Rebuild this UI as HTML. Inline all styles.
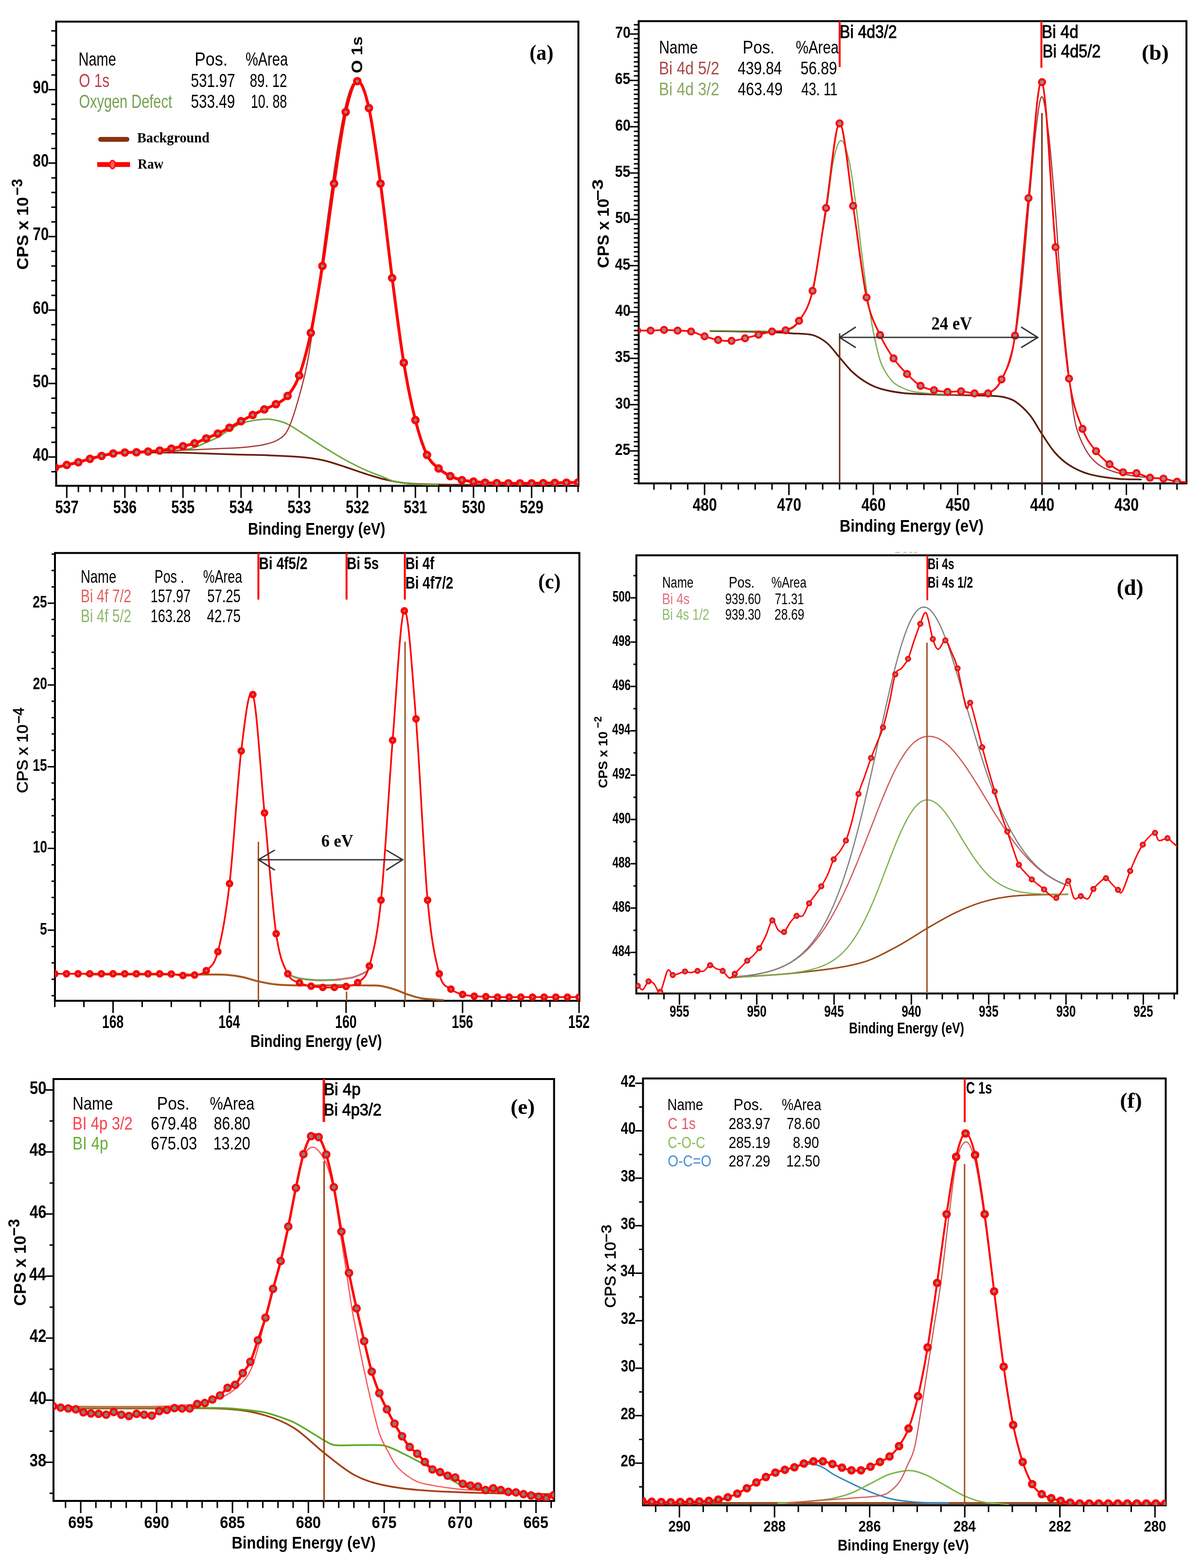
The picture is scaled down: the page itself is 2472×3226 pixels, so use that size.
<!DOCTYPE html><html><head><meta charset="utf-8"><title>XPS spectra</title><style>html,body{margin:0;padding:0;background:#fff;}svg{display:block;}</style></head><body><svg width="2472" height="3226" viewBox="0 0 2472 3226" font-family='"Liberation Sans", Arial, sans-serif'><rect width="2472" height="3226" fill="#fff"/><path d="M137.3 999.5v13M161.2 999.5v13M185.1 999.5v13M209 999.5v13M232.9 999.5v13M256.8 999.5v13M280.7 999.5v13M304.6 999.5v13M328.5 999.5v13M352.4 999.5v13M376.3 999.5v13M400.2 999.5v13M424.1 999.5v13M448 999.5v13M471.9 999.5v13M495.8 999.5v13M519.7 999.5v13M543.6 999.5v13M567.5 999.5v13M591.4 999.5v13M615.3 999.5v13M639.2 999.5v13M663.1 999.5v13M687 999.5v13M710.9 999.5v13M734.8 999.5v13M758.7 999.5v13M782.6 999.5v13M806.5 999.5v13M830.4 999.5v13M854.3 999.5v13M878.2 999.5v13M902.1 999.5v13M926 999.5v13M949.9 999.5v13M973.8 999.5v13M997.7 999.5v13M1021.6 999.5v13M1045.5 999.5v13M1069.4 999.5v13M1093.3 999.5v13M1117.2 999.5v13M1141.1 999.5v13M1165 999.5v13M1188.9 999.5v13M137.3 999.5v25M256.8 999.5v25M376.3 999.5v25M495.8 999.5v25M615.3 999.5v25M734.8 999.5v25M854.3 999.5v25M973.8 999.5v25M1093.3 999.5v25M115.5 970.4h-10M115.5 940.2h-10M115.5 910h-10M115.5 879.7h-10M115.5 849.5h-10M115.5 819.3h-10M115.5 789.1h-10M115.5 758.8h-10M115.5 728.6h-10M115.5 698.4h-10M115.5 668.1h-10M115.5 637.9h-10M115.5 607.7h-10M115.5 577.5h-10M115.5 547.2h-10M115.5 517h-10M115.5 486.8h-10M115.5 456.6h-10M115.5 426.3h-10M115.5 396.1h-10M115.5 365.9h-10M115.5 335.6h-10M115.5 305.4h-10M115.5 275.2h-10M115.5 245h-10M115.5 214.7h-10M115.5 184.5h-10M115.5 154.3h-10M115.5 124h-10M115.5 93.8h-10M115.5 63.6h-10M115.5 940.2h-16M115.5 789.1h-16M115.5 637.9h-16M115.5 486.8h-16M115.5 335.6h-16M115.5 184.5h-16" stroke="#000" stroke-width="3" fill="none"/>
<rect x="115.5" y="44.5" width="1074" height="955" fill="none" stroke="#000" stroke-width="4"/>
<text x="113.4" y="1056.3" font-size="36.3" font-weight="bold" textLength="48.2" lengthAdjust="spacingAndGlyphs">537</text>
<text x="232.8" y="1056.3" font-size="36.3" font-weight="bold" textLength="48.2" lengthAdjust="spacingAndGlyphs">536</text>
<text x="352.2" y="1056.3" font-size="36.3" font-weight="bold" textLength="48.2" lengthAdjust="spacingAndGlyphs">535</text>
<text x="471.4" y="1056.3" font-size="36.3" font-weight="bold" textLength="48.2" lengthAdjust="spacingAndGlyphs">534</text>
<text x="591.3" y="1056.3" font-size="36.3" font-weight="bold" textLength="48.2" lengthAdjust="spacingAndGlyphs">533</text>
<text x="710.9" y="1056.3" font-size="36.3" font-weight="bold" textLength="48.2" lengthAdjust="spacingAndGlyphs">532</text>
<text x="830.2" y="1056.3" font-size="36.3" font-weight="bold" textLength="48.2" lengthAdjust="spacingAndGlyphs">531</text>
<text x="949.9" y="1056.3" font-size="36.3" font-weight="bold" textLength="48.2" lengthAdjust="spacingAndGlyphs">530</text>
<text x="1069.3" y="1056.3" font-size="36.3" font-weight="bold" textLength="48.2" lengthAdjust="spacingAndGlyphs">529</text>
<text x="67.6" y="947.8" font-size="37.4" font-weight="bold" textLength="32.6" lengthAdjust="spacingAndGlyphs">40</text>
<text x="67.6" y="796.7" font-size="37.4" font-weight="bold" textLength="32.6" lengthAdjust="spacingAndGlyphs">50</text>
<text x="67.6" y="645.5" font-size="37.4" font-weight="bold" textLength="32.6" lengthAdjust="spacingAndGlyphs">60</text>
<text x="67.6" y="494.4" font-size="37.4" font-weight="bold" textLength="32.6" lengthAdjust="spacingAndGlyphs">70</text>
<text x="67.6" y="343.2" font-size="37.4" font-weight="bold" textLength="32.6" lengthAdjust="spacingAndGlyphs">80</text>
<text x="67.6" y="192.1" font-size="37.4" font-weight="bold" textLength="32.6" lengthAdjust="spacingAndGlyphs">90</text>
<clipPath id="clipA"><rect x="115.5" y="44.5" width="1074.0" height="955.0"/></clipPath>
<g clip-path="url(#clipA)">
<path d="M304 931C316.7 931.1 350.3 930.8 380 931.5C409.7 932.2 452.7 934.1 482 935C511.3 935.9 532 936 556 937C580 938 607.5 939.2 626 941C644.5 942.8 653.3 944.3 667 947.5C680.7 950.7 694.3 955.6 708 960C721.7 964.4 735.3 969.7 749 974C762.7 978.3 776.3 982.7 790 986C803.7 989.3 816 992 831 993.7C846 995.5 858.5 995.9 880 996.5C901.5 997.1 940 997.3 960 997.5C980 997.7 993.3 997.5 1000 997.5" fill="none" stroke="#6b1f0c" stroke-width="3.5" stroke-linejoin="round" stroke-linecap="round"/>
<path d="M330 929.5C335.8 929.1 353.4 928.5 365 927C376.6 925.5 390 923.5 399.7 920.7C409.4 918 415.2 913.9 423.1 910.5C431 907.1 438.8 904.5 446.9 900.2C455 895.9 463.3 889.4 471.5 884.6C479.7 879.8 488.1 874.6 496.1 871.4C504.1 868.2 511.6 866.9 519.5 865.4C527.4 863.9 537.1 862.9 543.3 862.5C549.4 862.1 551.1 862.1 556.4 862.8C561.7 863.5 568.8 864.7 575 866.5C581.2 868.3 584.9 868.9 593.4 873.5C601.9 878.1 613.9 886.1 626.2 894C638.5 901.9 653.5 912.2 667.2 920.7C680.9 929.2 694.6 937.8 708.3 945.3C722 952.8 735.6 959.8 749.3 966C763 972.2 780 978.3 790.3 982.4C800.6 986.5 800.9 988.2 810.9 990.5C820.9 992.8 835.1 994.8 850 996C864.9 997.2 891.7 997.2 900 997.5" fill="none" stroke="#6aa83a" stroke-width="3" stroke-linejoin="round" stroke-linecap="round"/>
<path d="M304 929C316.7 928.5 355.7 927 380 926C404.3 925 430 923.9 450 923C470 922.1 484.3 921.9 500 920.5C515.7 919.1 531.8 917.2 544 914.5C556.2 911.8 564.8 909.4 573 904C581.2 898.6 586.2 896 593 882C599.8 868 607.2 844.3 614 820C620.8 795.7 627.2 774 634 736C640.8 698 648.2 641.3 655 592C661.8 542.7 668.3 488.7 675 440C681.7 391.3 688.3 340 695 300C701.7 260 708.3 222 715 200C721.7 178 727.7 164.3 735 168C742.3 171.7 750.8 187.3 758.7 222.3C766.6 257.3 774.6 319.5 782.6 377.8C790.6 436.1 798.5 510.5 806.5 571.9C814.5 633.3 822.4 697.6 830.4 746.3C838.4 795 846.3 832.7 854.3 864.3C862.3 895.9 870.2 919.4 878.2 936C886.2 952.6 894.1 956.5 902.1 963.8C910.1 971 918 975.5 926 979.5C934 983.5 942 985.9 950 988C958 990.1 965.7 990.8 974 992C982.3 993.2 987.3 994.2 1000 995C1012.7 995.8 1041.7 996.2 1050 996.5" fill="none" stroke="#a83232" stroke-width="2.5" stroke-linejoin="round" stroke-linecap="round"/>
<path d="M113.4 962C117.4 961.1 129.3 958.4 137.3 956.6C145.3 954.8 153.2 953.1 161.2 951C169.2 948.9 177.1 946.2 185.1 944C193.1 941.8 201 939.8 209 938C217 936.2 224.9 934.2 232.9 933C240.9 931.8 248.8 931.4 256.8 931C264.8 930.6 272.7 930.8 280.7 930.5C288.7 930.2 296.6 929.6 304.6 929C312.6 928.4 320.5 928 328.5 927C336.5 926 344.4 924.5 352.4 923C360.4 921.5 368.3 919.8 376.3 918C384.3 916.2 392.2 914.7 400.2 912C408.2 909.3 416.1 905.3 424.1 902C432.1 898.7 440 895.7 448 892C456 888.3 463.9 884.2 471.9 880C479.9 875.8 487.8 870.9 495.8 866.5C503.8 862.1 511.7 857.8 519.7 853.8C527.7 849.8 535.6 845.9 543.6 842.2C551.6 838.5 559.5 836.1 567.5 831.5C575.5 826.9 583.4 824.4 591.4 814.6C599.4 804.8 607.3 794.2 615.3 772.6C623.3 751 631.2 722.2 639.2 684.7C647.2 647.2 655.1 598.4 663.1 547.3C671.1 496.1 679 430.6 687 377.8C695 325 702.9 265.6 710.9 230.5C718.9 195.3 726.8 168.3 734.8 166.9C742.8 165.5 750.7 187.2 758.7 222.3C766.7 257.4 774.6 319.5 782.6 377.8C790.6 436.1 798.5 510.5 806.5 571.9C814.5 633.3 822.4 697.6 830.4 746.3C838.4 795 846.3 832.7 854.3 864.3C862.3 895.9 870.2 919.4 878.2 936C886.2 952.6 894.1 956.5 902.1 963.8C910.1 971 918 975.5 926 979.5C934 983.5 941.9 985.8 949.9 987.7C957.9 989.6 965.8 989.9 973.8 990.8C981.8 991.7 989.7 992.5 997.7 993C1005.7 993.5 1013.6 993.8 1021.6 994C1029.6 994.2 1037.5 994.4 1045.5 994.5C1053.5 994.6 1061.4 994.5 1069.4 994.5C1077.4 994.5 1085.3 994.6 1093.3 994.5C1101.3 994.4 1109.2 994.2 1117.2 994C1125.2 993.8 1133.1 993.7 1141.1 993.5C1149.1 993.3 1157 993.2 1165 993C1173 992.8 1184.9 992.6 1188.9 992.5" fill="none" stroke="#ff0000" stroke-width="6" stroke-linejoin="round" stroke-linecap="round"/>
<g fill="#8c8c8c" stroke="#ff0000" stroke-width="5.5"><circle cx="113.4" cy="962" r="6"/><circle cx="137.3" cy="956.6" r="6"/><circle cx="161.2" cy="951" r="6"/><circle cx="185.1" cy="944" r="6"/><circle cx="209" cy="938" r="6"/><circle cx="232.9" cy="933" r="6"/><circle cx="256.8" cy="931" r="6"/><circle cx="280.7" cy="930.5" r="6"/><circle cx="304.6" cy="929" r="6"/><circle cx="328.5" cy="927" r="6"/><circle cx="352.4" cy="923" r="6"/><circle cx="376.3" cy="918" r="6"/><circle cx="400.2" cy="912" r="6"/><circle cx="424.1" cy="902" r="6"/><circle cx="448" cy="892" r="6"/><circle cx="471.9" cy="880" r="6"/><circle cx="495.8" cy="866.5" r="6"/><circle cx="519.7" cy="853.8" r="6"/><circle cx="543.6" cy="842.2" r="6"/><circle cx="567.5" cy="831.5" r="6"/><circle cx="591.4" cy="814.6" r="6"/><circle cx="615.3" cy="772.6" r="6"/><circle cx="639.2" cy="684.7" r="6"/><circle cx="663.1" cy="547.3" r="6"/><circle cx="687" cy="377.8" r="6"/><circle cx="710.9" cy="230.5" r="6"/><circle cx="734.8" cy="166.9" r="6"/><circle cx="758.7" cy="222.3" r="6"/><circle cx="782.6" cy="377.8" r="6"/><circle cx="806.5" cy="571.9" r="6"/><circle cx="830.4" cy="746.3" r="6"/><circle cx="854.3" cy="864.3" r="6"/><circle cx="878.2" cy="936" r="6"/><circle cx="902.1" cy="963.8" r="6"/><circle cx="926" cy="979.5" r="6"/><circle cx="949.9" cy="987.7" r="6"/><circle cx="973.8" cy="990.8" r="6"/><circle cx="997.7" cy="993" r="6"/><circle cx="1021.6" cy="994" r="6"/><circle cx="1045.5" cy="994.5" r="6"/><circle cx="1069.4" cy="994.5" r="6"/><circle cx="1093.3" cy="994.5" r="6"/><circle cx="1117.2" cy="994" r="6"/><circle cx="1141.1" cy="993.5" r="6"/><circle cx="1165" cy="993" r="6"/><circle cx="1188.9" cy="992.5" r="6"/></g>
</g>
<text x="161.6" y="135.4" font-size="39.5" textLength="77.2" lengthAdjust="spacingAndGlyphs">Name</text>
<text x="400.2" y="135.4" font-size="39.5" textLength="67.9" lengthAdjust="spacingAndGlyphs">Pos.</text>
<text x="505" y="135.4" font-size="39.5" textLength="87" lengthAdjust="spacingAndGlyphs">%Area</text>
<text x="162.2" y="178.6" font-size="39.5" fill="#c0404a" textLength="63" lengthAdjust="spacingAndGlyphs">O 1s</text>
<text x="392.5" y="178.6" font-size="39.5" textLength="91" lengthAdjust="spacingAndGlyphs">531.97</text>
<text x="513.8" y="178.6" font-size="39.5" textLength="76.6" lengthAdjust="spacingAndGlyphs">89. 12</text>
<text x="162.4" y="222" font-size="39.5" fill="#76a050" textLength="191.6" lengthAdjust="spacingAndGlyphs">Oxygen Defect</text>
<text x="392.5" y="222" font-size="39.5" textLength="90.9" lengthAdjust="spacingAndGlyphs">533.49</text>
<text x="516" y="222" font-size="39.5" textLength="74.2" lengthAdjust="spacingAndGlyphs">10. 88</text>
<line x1="207" y1="286.7" x2="261" y2="286.7" stroke="#8a3010" stroke-width="10" stroke-linecap="round"/>
<text x="282" y="292.5" font-size="29" font-family='"Liberation Serif", "Times New Roman", serif' font-weight="bold" textLength="148.8" lengthAdjust="spacingAndGlyphs">Background</text>
<line x1="200" y1="338.5" x2="267.4" y2="338.5" stroke="#ff0000" stroke-width="10" stroke-linecap="butt"/>
<ellipse cx="231.4" cy="338.5" rx="5.5" ry="8.5" fill="#ff5a5a" stroke="#ff0000" stroke-width="2.5"/>
<text x="283.3" y="347" font-size="29" font-family='"Liberation Serif", "Times New Roman", serif' font-weight="bold" textLength="52.9" lengthAdjust="spacingAndGlyphs">Raw</text>
<text x="1089.1" y="123.1" font-size="44.7" font-family='"Liberation Serif", "Times New Roman", serif' font-weight="bold" textLength="49.1" lengthAdjust="spacingAndGlyphs">(a)</text>
<text x="0" y="0" font-size="32" font-weight="bold" textLength="75.8" lengthAdjust="spacingAndGlyphs" transform="translate(745 150.7) rotate(-90)">O 1s</text>
<text x="510" y="1099.5" font-size="34.2" font-weight="bold" textLength="282.4" lengthAdjust="spacingAndGlyphs">Binding Energy (eV)</text>
<text x="0" y="0" font-size="32.7" font-weight="bold" textLength="149.7" lengthAdjust="spacingAndGlyphs" transform="translate(57.5 554.9) rotate(-90)">CPS x 10</text>
<text x="0" y="0" font-size="31" font-weight="bold" textLength="34.3" lengthAdjust="spacingAndGlyphs" transform="translate(45.6 402.2) rotate(-90)">−3</text>
<path d="M1344.9 994.5v13M1379.6 994.5v13M1414.3 994.5v13M1449 994.5v13M1483.7 994.5v13M1518.4 994.5v13M1553.1 994.5v13M1587.8 994.5v13M1622.5 994.5v13M1657.2 994.5v13M1691.9 994.5v13M1726.6 994.5v13M1761.3 994.5v13M1796 994.5v13M1830.7 994.5v13M1865.4 994.5v13M1900.1 994.5v13M1934.8 994.5v13M1969.5 994.5v13M2004.2 994.5v13M2038.9 994.5v13M2073.6 994.5v13M2108.3 994.5v13M2143 994.5v13M2177.7 994.5v13M2212.4 994.5v13M2247.1 994.5v13M2281.8 994.5v13M2316.5 994.5v13M2351.2 994.5v13M2385.9 994.5v13M2420.6 994.5v13M1449 994.5v24M1622.5 994.5v24M1796 994.5v24M1969.5 994.5v24M2143 994.5v24M2316.5 994.5v24M1313.5 994.5h-10M1313.5 985h-10M1313.5 975.4h-10M1313.5 965.9h-10M1313.5 956.4h-10M1313.5 946.9h-10M1313.5 937.3h-10M1313.5 927.8h-10M1313.5 918.3h-10M1313.5 908.7h-10M1313.5 899.2h-10M1313.5 889.7h-10M1313.5 880.1h-10M1313.5 870.6h-10M1313.5 861.1h-10M1313.5 851.6h-10M1313.5 842h-10M1313.5 832.5h-10M1313.5 823h-10M1313.5 813.4h-10M1313.5 803.9h-10M1313.5 794.4h-10M1313.5 784.9h-10M1313.5 775.3h-10M1313.5 765.8h-10M1313.5 756.3h-10M1313.5 746.7h-10M1313.5 737.2h-10M1313.5 727.7h-10M1313.5 718.1h-10M1313.5 708.6h-10M1313.5 699.1h-10M1313.5 689.5h-10M1313.5 680h-10M1313.5 670.5h-10M1313.5 661h-10M1313.5 651.4h-10M1313.5 641.9h-10M1313.5 632.4h-10M1313.5 622.8h-10M1313.5 613.3h-10M1313.5 603.8h-10M1313.5 594.2h-10M1313.5 584.7h-10M1313.5 575.2h-10M1313.5 565.7h-10M1313.5 556.1h-10M1313.5 546.6h-10M1313.5 537.1h-10M1313.5 527.5h-10M1313.5 518h-10M1313.5 508.5h-10M1313.5 498.9h-10M1313.5 489.4h-10M1313.5 479.9h-10M1313.5 470.4h-10M1313.5 460.8h-10M1313.5 451.3h-10M1313.5 441.8h-10M1313.5 432.2h-10M1313.5 422.7h-10M1313.5 413.2h-10M1313.5 403.6h-10M1313.5 394.1h-10M1313.5 384.6h-10M1313.5 375.1h-10M1313.5 365.5h-10M1313.5 356h-10M1313.5 346.5h-10M1313.5 336.9h-10M1313.5 327.4h-10M1313.5 317.9h-10M1313.5 308.3h-10M1313.5 298.8h-10M1313.5 289.3h-10M1313.5 279.8h-10M1313.5 270.2h-10M1313.5 260.7h-10M1313.5 251.2h-10M1313.5 241.6h-10M1313.5 232.1h-10M1313.5 222.6h-10M1313.5 213h-10M1313.5 203.5h-10M1313.5 194h-10M1313.5 184.5h-10M1313.5 174.9h-10M1313.5 165.4h-10M1313.5 155.9h-10M1313.5 146.3h-10M1313.5 136.8h-10M1313.5 127.3h-10M1313.5 117.8h-10M1313.5 108.2h-10M1313.5 98.7h-10M1313.5 89.2h-10M1313.5 79.6h-10M1313.5 70.1h-10M1313.5 60.6h-10M1313.5 51h-10M1313.5 927.8h-18M1313.5 832.5h-18M1313.5 737.2h-18M1313.5 641.9h-18M1313.5 546.6h-18M1313.5 451.3h-18M1313.5 356h-18M1313.5 260.7h-18M1313.5 165.4h-18M1313.5 70.1h-18" stroke="#000" stroke-width="3" fill="none"/>
<rect x="1313.5" y="43.5" width="1126.5" height="951" fill="none" stroke="#000" stroke-width="4"/>
<text x="1424.4" y="1051.4" font-size="36.7" font-weight="bold" textLength="49.9" lengthAdjust="spacingAndGlyphs">480</text>
<text x="1597.9" y="1051.4" font-size="36.7" font-weight="bold" textLength="49.9" lengthAdjust="spacingAndGlyphs">470</text>
<text x="1771.4" y="1051.4" font-size="36.7" font-weight="bold" textLength="49.9" lengthAdjust="spacingAndGlyphs">460</text>
<text x="1944.9" y="1051.4" font-size="36.7" font-weight="bold" textLength="49.9" lengthAdjust="spacingAndGlyphs">450</text>
<text x="2118.4" y="1051.4" font-size="36.7" font-weight="bold" textLength="49.9" lengthAdjust="spacingAndGlyphs">440</text>
<text x="2291.9" y="1051.4" font-size="36.7" font-weight="bold" textLength="49.9" lengthAdjust="spacingAndGlyphs">430</text>
<text x="1264.8" y="935.8" font-size="34" font-weight="bold" textLength="31.5" lengthAdjust="spacingAndGlyphs">25</text>
<text x="1265.2" y="840.5" font-size="34" font-weight="bold" textLength="31.5" lengthAdjust="spacingAndGlyphs">30</text>
<text x="1264.8" y="745.2" font-size="34" font-weight="bold" textLength="31.5" lengthAdjust="spacingAndGlyphs">35</text>
<text x="1265.2" y="649.9" font-size="34" font-weight="bold" textLength="31.5" lengthAdjust="spacingAndGlyphs">40</text>
<text x="1264.8" y="554.6" font-size="34" font-weight="bold" textLength="31.5" lengthAdjust="spacingAndGlyphs">45</text>
<text x="1265.2" y="459.3" font-size="34" font-weight="bold" textLength="31.5" lengthAdjust="spacingAndGlyphs">50</text>
<text x="1264.8" y="364" font-size="34" font-weight="bold" textLength="31.5" lengthAdjust="spacingAndGlyphs">55</text>
<text x="1265.2" y="268.7" font-size="34" font-weight="bold" textLength="31.5" lengthAdjust="spacingAndGlyphs">60</text>
<text x="1264.8" y="173.4" font-size="34" font-weight="bold" textLength="31.5" lengthAdjust="spacingAndGlyphs">65</text>
<text x="1265.2" y="78.1" font-size="34" font-weight="bold" textLength="31.5" lengthAdjust="spacingAndGlyphs">70</text>
<clipPath id="clipB"><rect x="1313.5" y="43.5" width="1126.5" height="951.0"/></clipPath>
<g clip-path="url(#clipB)">
<path d="M1461 681C1472.5 681.2 1506.8 681.5 1530 682C1553.2 682.5 1583.8 683.4 1600 684C1616.2 684.6 1615.1 684.9 1627 685.8C1638.9 686.7 1659.1 686 1671.4 689.4C1683.7 692.8 1691.8 698.3 1701 706C1710.2 713.7 1718.2 725.8 1726.8 735.6C1735.4 745.4 1743.4 756.4 1752.6 765C1761.8 773.6 1772.2 781.2 1782 787C1791.8 792.8 1799.3 796.4 1811.6 800C1823.9 803.6 1841.3 806.8 1856 808.6C1870.7 810.4 1879.3 810.3 1900 811C1920.7 811.7 1956.7 812.4 1980 813C2003.3 813.6 2026 813.8 2040 814.5C2054 815.2 2056 815.1 2064 817C2072 818.9 2079.1 819.9 2088 826C2096.9 832.1 2108.4 842.4 2117.7 853.7C2126.9 865 2134.9 881.1 2143.5 894C2152.1 906.9 2160.1 920.5 2169.3 931C2178.6 941.5 2187.3 949.6 2199 957C2210.7 964.4 2223.5 970.8 2239.5 975.4C2255.5 980 2277.2 982.9 2295 984.7C2312.8 986.6 2337.9 986.2 2346.5 986.5" fill="none" stroke="#5a1d0a" stroke-width="3.5" stroke-linejoin="round" stroke-linecap="round"/>
<path d="M1461 680C1477.5 680.2 1534.2 681 1560 681C1585.8 681 1602.2 683.2 1616 680C1629.8 676.8 1633.8 675 1643 662C1652.2 649 1663.5 629 1671 602C1678.5 575 1683.2 528.7 1688 500C1692.8 471.3 1695.7 458.3 1700 430C1704.3 401.7 1709 353.5 1714 330C1719 306.5 1724.7 289 1730 289C1735.3 289 1741 308.2 1746 330C1751 351.8 1755.7 388.3 1760 420C1764.3 451.7 1768 488.3 1772 520C1776 551.7 1779.8 582.2 1784 610C1788.2 637.8 1792.3 664.2 1797 687C1801.7 709.8 1805.8 730.9 1812 747C1818.2 763.1 1826.7 775 1834 783.5C1841.3 792 1848.3 794.2 1856 798C1863.7 801.8 1869.3 804 1880 806C1890.7 808 1906.7 809 1920 810C1933.3 811 1953.3 811.7 1960 812" fill="none" stroke="#7aa84e" stroke-width="2.5" stroke-linejoin="round" stroke-linecap="round"/>
<path d="M1950 812C1958.3 812 1985 813.2 2000 812C2015 810.8 2030 810 2040 805C2050 800 2054 792.8 2060 782C2066 771.2 2071 757 2076 740C2081 723 2085.7 706.7 2090 680C2094.3 653.3 2097.7 623.3 2102 580C2106.3 536.7 2111.3 471.7 2116 420C2120.7 368.3 2125.5 306.8 2130 270C2134.5 233.2 2138.5 197.3 2143 199C2147.5 200.7 2152.3 239.8 2157 280C2161.7 320.2 2166.3 380 2171 440C2175.7 500 2180.2 582.8 2185 640C2189.8 697.2 2195.1 744.8 2199.6 783.5C2204.1 822.2 2206.4 848.6 2211.8 872C2217.2 895.4 2224.3 910 2232 923.8C2239.7 937.6 2247.5 947 2258 955C2268.5 963 2280.2 967.4 2295 971.7C2309.8 976 2329 978.8 2346.5 981C2364 983.2 2391.1 984.3 2400 985" fill="none" stroke="#a33a3a" stroke-width="2.5" stroke-linejoin="round" stroke-linecap="round"/>
<path d="M1310.2 680C1314.8 680 1328.7 680.4 1338 680.2C1347.2 680 1356.5 678.7 1365.7 678.7C1375 678.7 1384.2 679.7 1393.5 680.2C1402.7 680.8 1412 680 1421.2 682C1430.5 684 1439.7 689.1 1449 692C1458.3 694.9 1467.5 697.9 1476.8 699.4C1486 700.9 1495.3 701.9 1504.5 701.3C1513.8 700.7 1523 698.1 1532.3 696C1541.5 693.9 1550.8 691 1560 688.7C1569.3 686.4 1578.5 683.5 1587.8 682C1597.1 680.5 1606.3 683.2 1615.6 679.5C1624.8 675.8 1634.1 673.5 1643.3 660C1652.6 646.5 1661.8 637 1671.1 598.3C1680.3 559.6 1689.6 485.4 1698.8 428C1708.1 370.6 1717.3 254.6 1726.6 253.9C1735.9 253.2 1745.1 363.9 1754.4 423.6C1763.6 483.3 1772.9 567.7 1782.1 612C1791.4 656.3 1800.6 668.5 1809.9 689.4C1819.1 710.3 1828.4 724 1837.6 737.4C1846.9 750.8 1856.1 760.1 1865.4 769.5C1874.7 778.9 1883.9 788.4 1893.2 793.9C1902.4 799.4 1911.7 800.6 1920.9 802.7C1930.2 804.8 1939.4 806 1948.7 806.4C1957.9 806.8 1967.2 804.5 1976.4 805C1985.7 805.5 1994.9 808.7 2004.2 809.4C2013.5 810.1 2022.7 814.2 2032 809.4C2041.2 804.6 2050.5 800.4 2059.7 780.6C2069 760.8 2078.2 752.8 2087.5 690.6C2096.7 628.5 2106 494.6 2115.2 407.7C2124.5 320.8 2133.7 152.2 2143 169C2152.3 185.8 2161.5 406.8 2170.8 508.5C2180 610.2 2189.3 716.7 2198.5 779C2207.8 841.3 2217 857.5 2226.3 882.4C2235.5 907.3 2244.8 916.1 2254 928.2C2263.3 940.3 2272.5 947.9 2281.8 955.1C2291.1 962.4 2300.3 968.6 2309.6 971.7C2318.8 974.8 2328.1 971.8 2337.3 973.6C2346.6 975.5 2355.8 980.9 2365.1 982.8C2374.3 984.6 2383.6 983.3 2392.8 984.7C2402.1 986.1 2411.3 989.8 2420.6 991C2429.9 992.2 2443.7 991.8 2448.4 992" fill="none" stroke="#ff0000" stroke-width="3.5" stroke-linejoin="round" stroke-linecap="round"/>
<g fill="#a08890" stroke="#ff0000" stroke-width="4.2"><circle cx="1310.2" cy="680" r="6.2"/><circle cx="1338" cy="680.2" r="6.2"/><circle cx="1365.7" cy="678.7" r="6.2"/><circle cx="1393.5" cy="680.2" r="6.2"/><circle cx="1421.2" cy="682" r="6.2"/><circle cx="1449" cy="692" r="6.2"/><circle cx="1476.8" cy="699.4" r="6.2"/><circle cx="1504.5" cy="701.3" r="6.2"/><circle cx="1532.3" cy="696" r="6.2"/><circle cx="1560" cy="688.7" r="6.2"/><circle cx="1587.8" cy="682" r="6.2"/><circle cx="1615.6" cy="679.5" r="6.2"/><circle cx="1643.3" cy="660" r="6.2"/><circle cx="1671.1" cy="598.3" r="6.2"/><circle cx="1698.8" cy="428" r="6.2"/><circle cx="1726.6" cy="253.9" r="6.2"/><circle cx="1754.4" cy="423.6" r="6.2"/><circle cx="1782.1" cy="612" r="6.2"/><circle cx="1809.9" cy="689.4" r="6.2"/><circle cx="1837.6" cy="737.4" r="6.2"/><circle cx="1865.4" cy="769.5" r="6.2"/><circle cx="1893.2" cy="793.9" r="6.2"/><circle cx="1920.9" cy="802.7" r="6.2"/><circle cx="1948.7" cy="806.4" r="6.2"/><circle cx="1976.4" cy="805" r="6.2"/><circle cx="2004.2" cy="809.4" r="6.2"/><circle cx="2032" cy="809.4" r="6.2"/><circle cx="2059.7" cy="780.6" r="6.2"/><circle cx="2087.5" cy="690.6" r="6.2"/><circle cx="2115.2" cy="407.7" r="6.2"/><circle cx="2143" cy="169" r="6.2"/><circle cx="2170.8" cy="508.5" r="6.2"/><circle cx="2198.5" cy="779" r="6.2"/><circle cx="2226.3" cy="882.4" r="6.2"/><circle cx="2254" cy="928.2" r="6.2"/><circle cx="2281.8" cy="955.1" r="6.2"/><circle cx="2309.6" cy="971.7" r="6.2"/><circle cx="2337.3" cy="973.6" r="6.2"/><circle cx="2365.1" cy="982.8" r="6.2"/><circle cx="2392.8" cy="984.7" r="6.2"/><circle cx="2420.6" cy="991" r="6.2"/><circle cx="2448.4" cy="992" r="6.2"/></g>
</g>
<line x1="1726.8" y1="685.8" x2="1726.8" y2="994.5" stroke="#6b2e14" stroke-width="3"/>
<line x1="2142.8" y1="232.5" x2="2142.8" y2="994.5" stroke="#6b2e14" stroke-width="3"/>
<line x1="1726.8" y1="43.5" x2="1726.8" y2="138" stroke="#ff0000" stroke-width="4"/>
<line x1="2141.7" y1="43.5" x2="2141.7" y2="139.5" stroke="#ff0000" stroke-width="4"/>
<text x="1727.1" y="77.5" font-size="37" textLength="117.5" lengthAdjust="spacingAndGlyphs" stroke="#000" stroke-width="1">Bi 4d3/2</text>
<text x="2142.3" y="77.5" font-size="37" textLength="75.7" lengthAdjust="spacingAndGlyphs" stroke="#000" stroke-width="1">Bi 4d</text>
<text x="2144" y="117.5" font-size="37" textLength="119.7" lengthAdjust="spacingAndGlyphs" stroke="#000" stroke-width="1">Bi 4d5/2</text>
<path d="M1726.8 694.2H2134.3M1760 672.8L1726.8 694.2L1760 715.3M2100 672.8L2134.3 694.2L2100 715.3" fill="none" stroke="#333" stroke-width="2.8"/>
<text x="1915.4" y="677.5" font-size="37" font-family='"Liberation Serif", "Times New Roman", serif' font-weight="bold" textLength="83.7" lengthAdjust="spacingAndGlyphs">24 eV</text>
<text x="1355.2" y="110.4" font-size="37.5" textLength="80" lengthAdjust="spacingAndGlyphs">Name</text>
<text x="1527.3" y="110.4" font-size="37.5" textLength="65.7" lengthAdjust="spacingAndGlyphs">Pos.</text>
<text x="1636.4" y="110.4" font-size="37.5" textLength="88.6" lengthAdjust="spacingAndGlyphs">%Area</text>
<text x="1354.9" y="153.2" font-size="37.5" fill="#a84848" textLength="124.4" lengthAdjust="spacingAndGlyphs">Bi 4d 5/2</text>
<text x="1517.3" y="153.2" font-size="37.5" textLength="90.5" lengthAdjust="spacingAndGlyphs">439.84</text>
<text x="1646.2" y="153.2" font-size="37.5" textLength="75.2" lengthAdjust="spacingAndGlyphs">56.89</text>
<text x="1354.9" y="196" font-size="37.5" fill="#86a85a" textLength="124.4" lengthAdjust="spacingAndGlyphs">Bi 4d 3/2</text>
<text x="1517.3" y="196" font-size="37.5" textLength="92.1" lengthAdjust="spacingAndGlyphs">463.49</text>
<text x="1647.9" y="196" font-size="37.5" textLength="74.4" lengthAdjust="spacingAndGlyphs">43. 11</text>
<text x="2348.1" y="122.8" font-size="45.2" font-family='"Liberation Serif", "Times New Roman", serif' font-weight="bold" textLength="55.7" lengthAdjust="spacingAndGlyphs">(b)</text>
<text x="1726.8" y="1094.3" font-size="35.9" font-weight="bold" textLength="296.1" lengthAdjust="spacingAndGlyphs">Binding Energy (eV)</text>
<text x="0" y="0" font-size="33" font-weight="bold" textLength="142.7" lengthAdjust="spacingAndGlyphs" transform="translate(1251.7 551.4) rotate(-90)">CPS x 10</text>
<text x="0" y="0" font-size="31" font-weight="bold" textLength="45.1" lengthAdjust="spacingAndGlyphs" transform="translate(1240 413.6) rotate(-90)">−3</text>
<path d="M112.7 2059v13M172.6 2059v13M232.5 2059v13M292.4 2059v13M352.3 2059v13M412.2 2059v13M472.1 2059v13M532 2059v13M591.9 2059v13M651.8 2059v13M711.7 2059v13M771.6 2059v13M831.5 2059v13M891.4 2059v13M951.3 2059v13M1011.2 2059v13M1071.1 2059v13M1131 2059v13M1190.9 2059v13M232.5 2059v25M472.1 2059v25M711.7 2059v25M951.3 2059v25M1190.9 2059v25M113 2048.4h-7M113 2014.7h-7M113 1981.1h-7M113 1947.4h-7M113 1913.8h-7M113 1880.2h-7M113 1846.5h-7M113 1812.9h-7M113 1779.2h-7M113 1745.6h-7M113 1712h-7M113 1678.3h-7M113 1644.7h-7M113 1611h-7M113 1577.4h-7M113 1543.8h-7M113 1510.1h-7M113 1476.5h-7M113 1442.8h-7M113 1409.2h-7M113 1375.6h-7M113 1341.9h-7M113 1308.3h-7M113 1274.6h-7M113 1241h-7M113 1207.4h-7M113 1173.7h-7M113 1140.1h-7M113 1913.8h-15M113 1745.6h-15M113 1577.4h-15M113 1409.2h-15M113 1241h-15" stroke="#000" stroke-width="3" fill="none"/>
<rect x="113" y="1137.7" width="1078.5" height="921.3" fill="none" stroke="#000" stroke-width="4"/>
<text x="210" y="2114.5" font-size="37.4" font-weight="bold" textLength="44.2" lengthAdjust="spacingAndGlyphs">168</text>
<text x="449.2" y="2114.5" font-size="37.4" font-weight="bold" textLength="44.2" lengthAdjust="spacingAndGlyphs">164</text>
<text x="689.3" y="2114.5" font-size="37.4" font-weight="bold" textLength="44.2" lengthAdjust="spacingAndGlyphs">160</text>
<text x="928.9" y="2114.5" font-size="37.4" font-weight="bold" textLength="44.2" lengthAdjust="spacingAndGlyphs">156</text>
<text x="1168.5" y="2114.5" font-size="37.4" font-weight="bold" textLength="44.2" lengthAdjust="spacingAndGlyphs">152</text>
<text x="82" y="1922.5" font-size="34.3" font-weight="bold" textLength="14.8" lengthAdjust="spacingAndGlyphs">5</text>
<text x="67.5" y="1754.3" font-size="34.3" font-weight="bold" textLength="29.6" lengthAdjust="spacingAndGlyphs">10</text>
<text x="67.2" y="1586.1" font-size="34.3" font-weight="bold" textLength="29.6" lengthAdjust="spacingAndGlyphs">15</text>
<text x="67.5" y="1417.9" font-size="34.3" font-weight="bold" textLength="29.6" lengthAdjust="spacingAndGlyphs">20</text>
<text x="67.2" y="1249.7" font-size="34.3" font-weight="bold" textLength="29.6" lengthAdjust="spacingAndGlyphs">25</text>
<clipPath id="clipC"><rect x="113" y="1137.7" width="1078.5" height="921.3"/></clipPath>
<g clip-path="url(#clipC)">
<path d="M177 2005C197.5 2005 256.2 2005 300 2005C343.8 2005 411.7 2004.8 440 2005C468.3 2005.2 460 2005.1 470 2006C480 2006.9 489.8 2008.3 500 2010.5C510.2 2012.7 520.1 2016.5 531.4 2019C542.7 2021.5 553.2 2024.1 568 2025.5C582.8 2026.9 598 2027.2 620 2027.5C642 2027.8 676.7 2027 700 2027C723.3 2027 746.3 2027.3 760 2027.5C773.7 2027.7 773.4 2026.9 782 2028.2C790.6 2029.5 802.4 2032.7 811.6 2035.6C820.8 2038.5 828.2 2042.5 837.4 2045.6C846.6 2048.7 854.7 2052 867 2054C879.3 2056 903.7 2056.9 911 2057.5" fill="none" stroke="#a8581c" stroke-width="4" stroke-linejoin="round" stroke-linecap="round"/>
<path d="M592 2003C593.3 2003.8 596 2006.3 600 2008C604 2009.7 608 2011.6 616 2013C624 2014.4 637.3 2016.1 648 2016.6C658.7 2017.1 671.3 2016.4 680 2016.2C688.7 2016 696.7 2015.6 700 2015.5" fill="none" stroke="#7f9a58" stroke-width="4" stroke-linejoin="round" stroke-linecap="round"/>
<path d="M690 2015.8C695 2015.2 712.8 2013.3 720 2012C727.2 2010.7 727.9 2010.3 733.5 2008.1C739.1 2005.9 749.2 2001.8 753.6 1998.8C758 1995.8 758.9 1991.5 760 1990" fill="none" stroke="#c07878" stroke-width="4" stroke-linejoin="round" stroke-linecap="round"/>
<path d="M112.7 2003.5C116.7 2003.5 128.7 2003.5 136.7 2003.5C144.6 2003.5 152.6 2003.5 160.6 2003.5C168.6 2003.5 176.6 2003.5 184.6 2003.5C192.6 2003.5 200.6 2003.5 208.5 2003.5C216.5 2003.5 224.5 2003.5 232.5 2003.5C240.5 2003.5 248.5 2003.5 256.5 2003.5C264.4 2003.5 272.4 2003.5 280.4 2003.5C288.4 2003.5 296.4 2003.5 304.4 2003.5C312.4 2003.5 320.4 2003.4 328.3 2003.5C336.3 2003.6 344.3 2003.4 352.3 2004C360.3 2004.6 368.3 2006.7 376.3 2007C384.2 2007.3 392.2 2007.7 400.2 2006C408.2 2004.3 416.2 2005 424.2 1997C432.2 1989 440.2 1987.8 448.1 1958C456.1 1928.2 464.1 1886.8 472.1 1818C480.1 1749.2 488.1 1609.8 496.1 1545C504 1480.2 512 1407.8 520 1429C528 1450.2 536 1590.5 544 1672.5C552 1754.5 560 1865.8 567.9 1921C575.9 1976.2 583.9 1986.7 591.9 2003.5C599.9 2020.3 607.9 2017.8 615.9 2022C623.8 2026.2 631.8 2027.4 639.8 2029C647.8 2030.6 655.8 2031.1 663.8 2031.5C671.8 2031.9 679.8 2031.8 687.7 2031.5C695.7 2031.2 703.7 2031.2 711.7 2029.5C719.7 2027.8 727.7 2028.5 735.7 2021.5C743.6 2014.5 751.6 2015.8 759.6 1987.5C767.6 1959.2 775.6 1929.4 783.6 1852C791.6 1774.6 799.6 1622.2 807.5 1523C815.5 1423.8 823.5 1264.1 831.5 1256.8C839.5 1249.5 847.5 1379.8 855.5 1479C863.4 1578.2 871.4 1764.6 879.4 1852C887.4 1939.4 895.4 1973 903.4 2003.5C911.4 2034 919.4 2027.9 927.3 2035C935.3 2042.1 943.3 2043.6 951.3 2046C959.3 2048.4 967.3 2048.8 975.3 2049.5C983.2 2050.2 991.2 2050.2 999.2 2050.5C1007.2 2050.8 1015.2 2051.3 1023.2 2051.5C1031.2 2051.7 1039.2 2051.5 1047.1 2051.5C1055.1 2051.5 1063.1 2051.5 1071.1 2051.5C1079.1 2051.5 1087.1 2051.5 1095.1 2051.5C1103 2051.5 1111 2051.5 1119 2051.5C1127 2051.5 1135 2051.5 1143 2051.5C1151 2051.5 1159 2051.5 1166.9 2051.5C1174.9 2051.5 1186.9 2051.5 1190.9 2051.5" fill="none" stroke="#ff0000" stroke-width="3.5" stroke-linejoin="round" stroke-linecap="round"/>
<g fill="#8c8c8c" stroke="#ff0000" stroke-width="5.5"><circle cx="112.7" cy="2003.5" r="5"/><circle cx="136.7" cy="2003.5" r="5"/><circle cx="160.6" cy="2003.5" r="5"/><circle cx="184.6" cy="2003.5" r="5"/><circle cx="208.5" cy="2003.5" r="5"/><circle cx="232.5" cy="2003.5" r="5"/><circle cx="256.5" cy="2003.5" r="5"/><circle cx="280.4" cy="2003.5" r="5"/><circle cx="304.4" cy="2003.5" r="5"/><circle cx="328.3" cy="2003.5" r="5"/><circle cx="352.3" cy="2004" r="5"/><circle cx="376.3" cy="2007" r="5"/><circle cx="400.2" cy="2006" r="5"/><circle cx="424.2" cy="1997" r="5"/><circle cx="448.1" cy="1958" r="5"/><circle cx="472.1" cy="1818" r="5"/><circle cx="496.1" cy="1545" r="5"/><circle cx="520" cy="1429" r="5"/><circle cx="544" cy="1672.5" r="5"/><circle cx="567.9" cy="1921" r="5"/><circle cx="591.9" cy="2003.5" r="5"/><circle cx="615.9" cy="2022" r="5"/><circle cx="639.8" cy="2029" r="5"/><circle cx="663.8" cy="2031.5" r="5"/><circle cx="687.7" cy="2031.5" r="5"/><circle cx="711.7" cy="2029.5" r="5"/><circle cx="735.7" cy="2021.5" r="5"/><circle cx="759.6" cy="1987.5" r="5"/><circle cx="783.6" cy="1852" r="5"/><circle cx="807.5" cy="1523" r="5"/><circle cx="831.5" cy="1256.8" r="5"/><circle cx="855.5" cy="1479" r="5"/><circle cx="879.4" cy="1852" r="5"/><circle cx="903.4" cy="2003.5" r="5"/><circle cx="927.3" cy="2035" r="5"/><circle cx="951.3" cy="2046" r="5"/><circle cx="975.3" cy="2049.5" r="5"/><circle cx="999.2" cy="2050.5" r="5"/><circle cx="1023.2" cy="2051.5" r="5"/><circle cx="1047.1" cy="2051.5" r="5"/><circle cx="1071.1" cy="2051.5" r="5"/><circle cx="1095.1" cy="2051.5" r="5"/><circle cx="1119" cy="2051.5" r="5"/><circle cx="1143" cy="2051.5" r="5"/><circle cx="1166.9" cy="2051.5" r="5"/><circle cx="1190.9" cy="2051.5" r="5"/></g>
</g>
<line x1="531.4" y1="1732" x2="531.4" y2="2059" stroke="#a0521e" stroke-width="3"/>
<line x1="833" y1="1320.3" x2="833" y2="2059" stroke="#a0521e" stroke-width="3"/>
<line x1="712.7" y1="2040" x2="712.7" y2="2059" stroke="#a0521e" stroke-width="3"/>
<line x1="531.4" y1="1137.7" x2="531.4" y2="1233.6" stroke="#ff0000" stroke-width="4"/>
<line x1="712.7" y1="1137.7" x2="712.7" y2="1233.6" stroke="#ff0000" stroke-width="4"/>
<line x1="832.6" y1="1137.7" x2="832.6" y2="1233.6" stroke="#ff0000" stroke-width="4"/>
<text x="532.5" y="1170.9" font-size="35.5" font-weight="bold" textLength="99.9" lengthAdjust="spacingAndGlyphs">Bi 4f5/2</text>
<text x="713.3" y="1170.9" font-size="35.5" font-weight="bold" textLength="65.9" lengthAdjust="spacingAndGlyphs">Bi 5s</text>
<text x="833.8" y="1170.9" font-size="35.5" font-weight="bold" textLength="59.4" lengthAdjust="spacingAndGlyphs">Bi 4f</text>
<text x="833.7" y="1210.7" font-size="35.5" font-weight="bold" textLength="98.6" lengthAdjust="spacingAndGlyphs">Bi 4f7/2</text>
<path d="M531.4 1768.8H828.2M565.3 1748.9L531.4 1768.8L565.3 1790.2M794.2 1748.9L828.2 1768.8L794.2 1790.2" fill="none" stroke="#333" stroke-width="2.8"/>
<text x="660.8" y="1742" font-size="35" font-family='"Liberation Serif", "Times New Roman", serif' font-weight="bold" textLength="65.6" lengthAdjust="spacingAndGlyphs">6 eV</text>
<text x="166" y="1198.9" font-size="36" textLength="73.2" lengthAdjust="spacingAndGlyphs">Name</text>
<text x="317.8" y="1198.9" font-size="36" textLength="61" lengthAdjust="spacingAndGlyphs">Pos .</text>
<text x="417.8" y="1198.9" font-size="36" textLength="80.2" lengthAdjust="spacingAndGlyphs">%Area</text>
<text x="166" y="1239.4" font-size="36" fill="#e06060" textLength="104.1" lengthAdjust="spacingAndGlyphs">Bi 4f 7/2</text>
<text x="309.8" y="1239.4" font-size="36" textLength="82" lengthAdjust="spacingAndGlyphs">157.97</text>
<text x="426.2" y="1239.4" font-size="36" textLength="68.7" lengthAdjust="spacingAndGlyphs">57.25</text>
<text x="166" y="1279.9" font-size="36" fill="#8db86a" textLength="104.1" lengthAdjust="spacingAndGlyphs">Bi 4f 5/2</text>
<text x="309.7" y="1279.9" font-size="36" textLength="82.5" lengthAdjust="spacingAndGlyphs">163.28</text>
<text x="425.6" y="1279.9" font-size="36" textLength="69.3" lengthAdjust="spacingAndGlyphs">42.75</text>
<text x="1107" y="1210.9" font-size="45.2" font-family='"Liberation Serif", "Times New Roman", serif' font-weight="bold" textLength="46" lengthAdjust="spacingAndGlyphs">(c)</text>
<text x="515.1" y="2154.3" font-size="35" font-weight="bold" textLength="270.2" lengthAdjust="spacingAndGlyphs">Binding Energy (eV)</text>
<text x="0" y="0" font-size="31" textLength="141" lengthAdjust="spacingAndGlyphs" transform="translate(57.2 1631.7) rotate(-90)" stroke="#000" stroke-width="0.8">CPS x 10</text>
<text x="0" y="0" font-size="31" textLength="33.2" lengthAdjust="spacingAndGlyphs" transform="translate(48.8 1489.1) rotate(-90)" stroke="#000" stroke-width="0.8">−4</text>
<path d="M1333.7 2044v12M1365.5 2044v12M1397.3 2044v12M1429.1 2044v12M1460.9 2044v12M1492.7 2044v12M1524.5 2044v12M1556.3 2044v12M1588.1 2044v12M1619.9 2044v12M1651.7 2044v12M1683.5 2044v12M1715.3 2044v12M1747.1 2044v12M1778.9 2044v12M1810.7 2044v12M1842.5 2044v12M1874.3 2044v12M1906.1 2044v12M1937.9 2044v12M1969.7 2044v12M2001.5 2044v12M2033.3 2044v12M2065.1 2044v12M2096.9 2044v12M2128.7 2044v12M2160.5 2044v12M2192.3 2044v12M2224.1 2044v12M2255.9 2044v12M2287.7 2044v12M2319.5 2044v12M2351.3 2044v12M2383.1 2044v12M2414.9 2044v12M1397.3 2044v23M1556.3 2044v23M1715.3 2044v23M1874.3 2044v23M2033.3 2044v23M2192.3 2044v23M2351.3 2044v23M1308.7 2005.1h-6M1308.7 1913.9h-6M1308.7 1822.7h-6M1308.7 1731.5h-6M1308.7 1640.3h-6M1308.7 1549.1h-6M1308.7 1457.9h-6M1308.7 1366.7h-6M1308.7 1275.5h-6M1308.7 1184.3h-6M1308.7 1959.5h-12M1308.7 1868.3h-12M1308.7 1777.1h-12M1308.7 1685.9h-12M1308.7 1594.7h-12M1308.7 1503.5h-12M1308.7 1412.3h-12M1308.7 1321.1h-12M1308.7 1229.9h-12" stroke="#000" stroke-width="3" fill="none"/>
<rect x="1308.7" y="1142.5" width="1112.3" height="901.5" fill="none" stroke="#000" stroke-width="4"/>
<text x="1377.1" y="2092.4" font-size="32.7" font-weight="bold" textLength="40.3" lengthAdjust="spacingAndGlyphs">955</text>
<text x="1536.2" y="2092.4" font-size="32.7" font-weight="bold" textLength="40.3" lengthAdjust="spacingAndGlyphs">950</text>
<text x="1695.1" y="2092.4" font-size="32.7" font-weight="bold" textLength="40.3" lengthAdjust="spacingAndGlyphs">945</text>
<text x="1854.2" y="2092.4" font-size="32.7" font-weight="bold" textLength="40.3" lengthAdjust="spacingAndGlyphs">940</text>
<text x="2013.1" y="2092.4" font-size="32.7" font-weight="bold" textLength="40.3" lengthAdjust="spacingAndGlyphs">935</text>
<text x="2172.2" y="2092.4" font-size="32.7" font-weight="bold" textLength="40.3" lengthAdjust="spacingAndGlyphs">930</text>
<text x="2331.1" y="2092.4" font-size="32.7" font-weight="bold" textLength="40.3" lengthAdjust="spacingAndGlyphs">925</text>
<text x="1258.9" y="1967.2" font-size="31.4" font-weight="bold" textLength="37.5" lengthAdjust="spacingAndGlyphs">484</text>
<text x="1259.6" y="1876" font-size="31.4" font-weight="bold" textLength="37.5" lengthAdjust="spacingAndGlyphs">486</text>
<text x="1259.4" y="1784.8" font-size="31.4" font-weight="bold" textLength="37.5" lengthAdjust="spacingAndGlyphs">488</text>
<text x="1259.7" y="1693.6" font-size="31.4" font-weight="bold" textLength="37.5" lengthAdjust="spacingAndGlyphs">490</text>
<text x="1259.6" y="1602.4" font-size="31.4" font-weight="bold" textLength="37.5" lengthAdjust="spacingAndGlyphs">492</text>
<text x="1258.9" y="1511.2" font-size="31.4" font-weight="bold" textLength="37.5" lengthAdjust="spacingAndGlyphs">494</text>
<text x="1259.6" y="1420" font-size="31.4" font-weight="bold" textLength="37.5" lengthAdjust="spacingAndGlyphs">496</text>
<text x="1259.4" y="1328.8" font-size="31.4" font-weight="bold" textLength="37.5" lengthAdjust="spacingAndGlyphs">498</text>
<text x="1259.7" y="1237.6" font-size="31.4" font-weight="bold" textLength="37.5" lengthAdjust="spacingAndGlyphs">500</text>
<clipPath id="clipD"><rect x="1308.7" y="1142.5" width="1112.3" height="901.5"/></clipPath>
<g clip-path="url(#clipD)">
<path d="M1505 2011C1520.8 2010 1571 2007.3 1600 2005C1629 2002.7 1655.7 1999.8 1679 1997C1702.3 1994.2 1721.6 1991.7 1740 1988C1758.4 1984.3 1770.8 1982.1 1789.5 1974.7C1808.2 1967.3 1832.5 1954.2 1852 1943.4C1871.5 1932.6 1888.1 1920.8 1906.6 1910C1925 1899.2 1944.1 1887.7 1962.7 1878.8C1981.3 1869.9 1999.5 1862.3 2018 1856.6C2036.5 1850.9 2054.9 1847.4 2073.4 1844.8C2091.9 1842.2 2108.5 1841.8 2128.8 1841C2149.1 1840.2 2184.1 1840.2 2195.2 1840" fill="none" stroke="#9a4a14" stroke-width="3" stroke-linejoin="round" stroke-linecap="round"/>
<path d="M1516.5 2010.5 L1520.5 2010.3 L1524.5 2010.1 L1528.5 2009.9 L1532.5 2009.6 L1536.5 2009.4 L1540.5 2009.2 L1544.5 2008.9 L1548.5 2008.7 L1552.5 2008.4 L1556.5 2008.2 L1560.5 2007.9 L1564.5 2007.6 L1568.5 2007.3 L1572.5 2007 L1576.5 2006.7 L1580.5 2006.4 L1584.5 2006.1 L1588.5 2005.8 L1592.5 2005.5 L1596.5 2005.1 L1600.5 2004.8 L1604.5 2004.4 L1608.5 2004.1 L1612.5 2003.7 L1616.5 2003.3 L1620.5 2002.8 L1624.5 2002.4 L1628.5 2001.9 L1632.5 2001.4 L1636.5 2000.8 L1640.5 2000.2 L1644.5 1999.6 L1648.5 1998.9 L1652.5 1998.2 L1656.5 1997.5 L1660.5 1996.6 L1664.5 1995.8 L1668.5 1994.8 L1672.5 1993.8 L1676.5 1992.6 L1680.5 1991.4 L1684.5 1990.1 L1688.5 1988.6 L1692.5 1987 L1696.5 1985.3 L1700.5 1983.4 L1704.5 1981.3 L1708.5 1979.1 L1712.5 1976.6 L1716.5 1973.9 L1720.5 1971 L1724.5 1967.8 L1728.5 1964.4 L1732.5 1960.6 L1736.5 1956.6 L1740.5 1952.2 L1744.5 1947.5 L1748.5 1942.5 L1752.5 1937 L1756.5 1931.3 L1760.5 1925.1 L1764.5 1918.6 L1768.5 1911.6 L1772.5 1904.4 L1776.5 1896.7 L1780.5 1888.7 L1784.5 1880.3 L1788.5 1871.7 L1792.5 1862.6 L1796.5 1853.3 L1800.5 1843.6 L1804.5 1833.6 L1808.5 1823.4 L1812.5 1813.1 L1816.5 1802.6 L1820.5 1792 L1824.5 1781.4 L1828.5 1770.8 L1832.5 1760.4 L1836.5 1750.1 L1840.5 1740 L1844.5 1730.3 L1848.5 1720.9 L1852.5 1711.8 L1856.5 1703.2 L1860.5 1695.1 L1864.5 1687.4 L1868.5 1680.2 L1872.5 1673.6 L1876.5 1667.6 L1880.5 1662.3 L1884.5 1657.7 L1888.5 1653.8 L1892.5 1650.6 L1896.5 1648.2 L1900.5 1646.6 L1904.5 1645.7 L1908.5 1645.7 L1912.5 1646.3 L1916.5 1647.5 L1920.5 1649.5 L1924.5 1652 L1928.5 1655.1 L1932.5 1658.7 L1936.5 1662.9 L1940.5 1667.5 L1944.5 1672.6 L1948.5 1678.1 L1952.5 1683.9 L1956.5 1689.9 L1960.5 1696.3 L1964.5 1702.8 L1968.5 1709.4 L1972.5 1716.1 L1976.5 1722.8 L1980.5 1729.4 L1984.5 1735.9 L1988.5 1742.4 L1992.5 1748.7 L1996.5 1754.8 L2000.5 1760.8 L2004.5 1766.6 L2008.5 1772.2 L2012.5 1777.6 L2016.5 1782.8 L2020.5 1787.8 L2024.5 1792.4 L2028.5 1796.7 L2032.5 1800.8 L2036.5 1804.5 L2040.5 1808 L2044.5 1811.2 L2048.5 1814.1 L2052.5 1816.8 L2056.5 1819.3 L2060.5 1821.6 L2064.5 1823.7 L2068.5 1825.6 L2072.5 1827.4 L2076.5 1829 L2080.5 1830.4 L2084.5 1831.7 L2088.5 1832.8 L2092.5 1833.8 L2096.5 1834.7 L2100.5 1835.4 L2104.5 1836.1 L2108.5 1836.6 L2112.5 1837.1 L2116.5 1837.6 L2120.5 1837.9 L2124.5 1838.3 L2128.5 1838.6 L2132.5 1838.8 L2136.5 1839.1 L2140.5 1839.2 L2144.5 1839.4 L2148.5 1839.5 L2152.5 1839.6 L2156.5 1839.6 L2160.5 1839.7 L2164.5 1839.7 L2168.5 1839.8 L2172.5 1839.8 L2176.5 1839.8 L2180.5 1839.8 L2184.5 1839.8 L2188.5 1839.9 L2192.5 1839.9 L2196.5 1839.9" fill="none" stroke="#7ab04e" stroke-width="2.5" stroke-linejoin="round" stroke-linecap="round"/>
<path d="M1516.5 2009.3 L1520.5 2008.9 L1524.5 2008.5 L1528.5 2008.1 L1532.5 2007.7 L1536.5 2007.2 L1540.5 2006.7 L1544.5 2006.1 L1548.5 2005.5 L1552.5 2004.9 L1556.5 2004.2 L1560.5 2003.5 L1564.5 2002.7 L1568.5 2001.9 L1572.5 2001 L1576.5 2000 L1580.5 1999 L1584.5 1997.9 L1588.5 1996.7 L1592.5 1995.4 L1596.5 1994 L1600.5 1992.5 L1604.5 1991 L1608.5 1989.3 L1612.5 1987.5 L1616.5 1985.5 L1620.5 1983.4 L1624.5 1981.2 L1628.5 1978.8 L1632.5 1976.3 L1636.5 1973.6 L1640.5 1970.7 L1644.5 1967.7 L1648.5 1964.4 L1652.5 1961 L1656.5 1957.4 L1660.5 1953.5 L1664.5 1949.5 L1668.5 1945.2 L1672.5 1940.7 L1676.5 1935.9 L1680.5 1931 L1684.5 1925.8 L1688.5 1920.3 L1692.5 1914.6 L1696.5 1908.7 L1700.5 1902.5 L1704.5 1896 L1708.5 1889.3 L1712.5 1882.3 L1716.5 1875.1 L1720.5 1867.6 L1724.5 1859.9 L1728.5 1851.9 L1732.5 1843.7 L1736.5 1835.2 L1740.5 1826.6 L1744.5 1817.7 L1748.5 1808.6 L1752.5 1799.3 L1756.5 1789.8 L1760.5 1780.2 L1764.5 1770.4 L1768.5 1760.4 L1772.5 1750.4 L1776.5 1740.3 L1780.5 1730.1 L1784.5 1719.9 L1788.5 1709.7 L1792.5 1699.5 L1796.5 1689.2 L1800.5 1679 L1804.5 1668.8 L1808.5 1658.6 L1812.5 1648.6 L1816.5 1638.7 L1820.5 1629 L1824.5 1619.6 L1828.5 1610.4 L1832.5 1601.5 L1836.5 1593 L1840.5 1584.8 L1844.5 1577 L1848.5 1569.7 L1852.5 1562.8 L1856.5 1556.3 L1860.5 1550.2 L1864.5 1544.6 L1868.5 1539.4 L1872.5 1534.7 L1876.5 1530.5 L1880.5 1526.9 L1884.5 1523.7 L1888.5 1521.1 L1892.5 1519 L1896.5 1517.2 L1900.5 1516 L1904.5 1515.2 L1908.5 1514.9 L1912.5 1514.9 L1916.5 1515.3 L1920.5 1516.2 L1924.5 1517.4 L1928.5 1518.9 L1932.5 1520.9 L1936.5 1523.2 L1940.5 1525.8 L1944.5 1528.8 L1948.5 1532.2 L1952.5 1535.9 L1956.5 1539.9 L1960.5 1544.3 L1964.5 1548.9 L1968.5 1553.8 L1972.5 1558.9 L1976.5 1564.2 L1980.5 1569.6 L1984.5 1575.3 L1988.5 1581 L1992.5 1587 L1996.5 1593.1 L2000.5 1599.3 L2004.5 1605.6 L2008.5 1612 L2012.5 1618.5 L2016.5 1625.2 L2020.5 1631.8 L2024.5 1638.5 L2028.5 1645.1 L2032.5 1651.7 L2036.5 1658.3 L2040.5 1664.8 L2044.5 1671.2 L2048.5 1677.6 L2052.5 1683.9 L2056.5 1690.1 L2060.5 1696.3 L2064.5 1702.3 L2068.5 1708.3 L2072.5 1714.2 L2076.5 1720.1 L2080.5 1725.7 L2084.5 1731.2 L2088.5 1736.5 L2092.5 1741.7 L2096.5 1746.7 L2100.5 1751.5 L2104.5 1756.2 L2108.5 1760.7 L2112.5 1765.1 L2116.5 1769.3 L2120.5 1773.3 L2124.5 1777.2 L2128.5 1781 L2132.5 1784.6 L2136.5 1788 L2140.5 1791.2 L2144.5 1794.3 L2148.5 1797.3 L2152.5 1800 L2156.5 1802.7 L2160.5 1805.2 L2164.5 1807.6 L2168.5 1809.8 L2172.5 1811.9 L2176.5 1813.9 L2180.5 1815.8 L2184.5 1817.5 L2188.5 1819.2 L2192.5 1820.8 L2196.5 1822.2" fill="none" stroke="#d05656" stroke-width="2.5" stroke-linejoin="round" stroke-linecap="round"/>
<path d="M1516.5 2009.3 L1520.5 2008.9 L1524.5 2008.5 L1528.5 2008.1 L1532.5 2007.7 L1536.5 2007.2 L1540.5 2006.7 L1544.5 2006.1 L1548.5 2005.5 L1552.5 2004.9 L1556.5 2004.2 L1560.5 2003.5 L1564.5 2002.7 L1568.5 2001.8 L1572.5 2000.9 L1576.5 2000 L1580.5 1998.9 L1584.5 1997.8 L1588.5 1996.6 L1592.5 1995.3 L1596.5 1993.9 L1600.5 1992.4 L1604.5 1990.8 L1608.5 1989 L1612.5 1987.2 L1616.5 1985.2 L1620.5 1983 L1624.5 1980.7 L1628.5 1978.2 L1632.5 1975.5 L1636.5 1972.7 L1640.5 1969.6 L1644.5 1966.4 L1648.5 1962.9 L1652.5 1959.2 L1656.5 1955.2 L1660.5 1951 L1664.5 1946.5 L1668.5 1941.7 L1672.5 1936.6 L1676.5 1931.3 L1680.5 1925.5 L1684.5 1919.5 L1688.5 1913.1 L1692.5 1906.3 L1696.5 1899.1 L1700.5 1891.6 L1704.5 1883.6 L1708.5 1875.2 L1712.5 1866.3 L1716.5 1857 L1720.5 1847.2 L1724.5 1836.9 L1728.5 1826.2 L1732.5 1814.9 L1736.5 1803.2 L1740.5 1790.9 L1744.5 1778.1 L1748.5 1764.8 L1752.5 1751 L1756.5 1736.7 L1760.5 1721.8 L1764.5 1706.6 L1768.5 1690.8 L1772.5 1674.6 L1776.5 1658.1 L1780.5 1641.1 L1784.5 1623.9 L1788.5 1606.3 L1792.5 1588.5 L1796.5 1570.4 L1800.5 1552.1 L1804.5 1533.7 L1808.5 1515.2 L1812.5 1496.8 L1816.5 1478.4 L1820.5 1460.2 L1824.5 1442.3 L1828.5 1424.8 L1832.5 1407.6 L1836.5 1391 L1840.5 1375 L1844.5 1359.7 L1848.5 1345.2 L1852.5 1331.5 L1856.5 1318.7 L1860.5 1306.8 L1864.5 1295.8 L1868.5 1285.9 L1872.5 1277.1 L1876.5 1269.5 L1880.5 1263 L1884.5 1257.8 L1888.5 1253.8 L1892.5 1251 L1896.5 1249.4 L1900.5 1249 L1904.5 1249.7 L1908.5 1251.6 L1912.5 1254.6 L1916.5 1258.7 L1920.5 1263.8 L1924.5 1269.9 L1928.5 1276.9 L1932.5 1284.8 L1936.5 1293.5 L1940.5 1303.1 L1944.5 1313.4 L1948.5 1324.4 L1952.5 1335.9 L1956.5 1348.1 L1960.5 1360.7 L1964.5 1373.8 L1968.5 1387.1 L1972.5 1400.7 L1976.5 1414.5 L1980.5 1428.3 L1984.5 1442.3 L1988.5 1456.2 L1992.5 1470.2 L1996.5 1484 L2000.5 1497.7 L2004.5 1511.3 L2008.5 1524.7 L2012.5 1538 L2016.5 1551 L2020.5 1563.7 L2024.5 1576.1 L2028.5 1588.1 L2032.5 1599.8 L2036.5 1611.1 L2040.5 1622.1 L2044.5 1632.6 L2048.5 1642.8 L2052.5 1652.7 L2056.5 1662.1 L2060.5 1671.3 L2064.5 1680.1 L2068.5 1688.5 L2072.5 1696.7 L2076.5 1704.6 L2080.5 1712 L2084.5 1719.2 L2088.5 1726 L2092.5 1732.5 L2096.5 1738.7 L2100.5 1744.6 L2104.5 1750.2 L2108.5 1755.5 L2112.5 1760.6 L2116.5 1765.4 L2120.5 1770 L2124.5 1774.4 L2128.5 1778.5 L2132.5 1782.5 L2136.5 1786.2 L2140.5 1789.7 L2144.5 1793.1 L2148.5 1796.2 L2152.5 1799.2 L2156.5 1801.9 L2160.5 1804.6 L2164.5 1807 L2168.5 1809.4 L2172.5 1811.5 L2176.5 1813.6 L2180.5 1815.5 L2184.5 1817.3 L2188.5 1819 L2192.5 1820.6 L2196.5 1822.1" fill="none" stroke="#808080" stroke-width="2.5" stroke-linejoin="round" stroke-linecap="round"/>
<path d="M1300 2020C1301.9 2021.4 1307.9 2025.5 1311.6 2028.2C1315.3 2030.9 1318.3 2037.5 1322 2036C1325.7 2034.5 1330 2021 1333.8 2019C1337.6 2017 1341 2020.4 1345 2024C1349 2027.6 1353.1 2044.9 1357.8 2040.4C1362.5 2035.9 1368.7 2002.7 1373 1997C1377.3 1991.3 1379.8 2005 1383.6 2006C1387.4 2007 1391.8 2004.2 1396 2003C1400.2 2001.8 1404.5 1999 1408.7 1998.7C1412.9 1998.4 1416.7 2001.2 1421 2001C1425.3 2000.8 1430.2 1998.1 1434.5 1997.6C1438.8 1997.1 1442.7 2000 1447 1998C1451.3 1996 1456.1 1986.6 1460.4 1985.8C1464.7 1985 1468.7 1991 1473 1993C1477.3 1995 1481.7 1994.4 1486.2 1997.6C1490.7 2000.8 1495.9 2011 1500 2012C1504.1 2013 1504.9 2009.4 1511 2003.5C1517.1 1997.6 1530.4 1982.8 1536.7 1976.6C1543 1970.3 1544.9 1970.3 1549 1966C1553.1 1961.7 1557.2 1957.5 1561.5 1950.7C1565.8 1943.9 1570.5 1934.5 1575 1925C1579.5 1915.5 1584.2 1895.5 1588.4 1893.5C1592.6 1891.5 1596 1909 1600 1913C1604 1917 1608.2 1920 1612.4 1917.5C1616.6 1915 1620.7 1903.5 1625 1898C1629.3 1892.5 1633.9 1886.6 1638.2 1884.3C1642.5 1882 1646.7 1888.3 1651 1884C1655.3 1879.7 1659.8 1865.5 1664 1858.5C1668.2 1851.5 1671.8 1847.8 1676 1842C1680.2 1836.2 1684.8 1830.4 1689.1 1823.4C1693.4 1816.4 1697.8 1809.2 1702 1800C1706.2 1790.8 1710.4 1776 1714.6 1768C1718.8 1760 1722.8 1758.5 1727 1752C1731.2 1745.5 1735.5 1739.6 1739.7 1729.3C1743.9 1719 1747.7 1706 1752 1690C1756.3 1674 1761.2 1648.6 1765.5 1633.3C1769.8 1618 1773.7 1610.3 1778 1598C1782.3 1585.7 1787.2 1570.7 1791.4 1559.4C1795.6 1548.1 1798.9 1540.5 1803 1530C1807.1 1519.5 1811.7 1510.7 1816 1496.7C1820.3 1482.7 1824.8 1464.2 1829 1446C1833.2 1427.8 1837 1399.3 1841.2 1387.5C1845.4 1375.7 1849.6 1380.3 1854 1375C1858.4 1369.7 1863.2 1364.9 1867.5 1355.4C1871.8 1345.9 1875.8 1330 1880 1318C1884.2 1306 1888.5 1292.9 1892.6 1283.4C1896.7 1274 1900.5 1256.1 1904.8 1261.3C1909.1 1266.5 1914.3 1302.4 1918.4 1314.8C1922.5 1327.2 1925.2 1335.4 1929.5 1335.8C1933.8 1336.2 1939.8 1316.7 1944.2 1317.4C1948.6 1318.1 1951.8 1330.4 1956 1340C1960.2 1349.6 1964.2 1355.8 1969.3 1375C1974.4 1394.2 1982.4 1443.2 1986.7 1455C1991 1466.8 1991.7 1440 1995.2 1445.8C1998.8 1451.6 2003.9 1474.8 2008 1490C2012.1 1505.2 2015.8 1521.5 2020 1537.3C2024.2 1553.1 2028.7 1569.8 2033 1585C2037.3 1600.2 2041.5 1613.9 2045.7 1628.4C2049.9 1642.9 2053.7 1658.2 2058 1672C2062.3 1685.8 2067.3 1698.2 2071.6 1710.9C2075.9 1723.6 2080 1736.6 2084 1748C2088 1759.4 2091.3 1771.2 2095.5 1779.2C2099.7 1787.2 2104.6 1791 2109 1796C2113.4 1801 2117.7 1805.4 2122 1809.4C2126.3 1813.4 2130.8 1816.6 2135 1820C2139.2 1823.4 2143 1826.3 2147.2 1830C2151.4 1833.7 2155.8 1839.1 2160 1842C2164.2 1844.9 2168.1 1849.1 2172.3 1847.4C2176.5 1845.7 2180.9 1837.8 2185 1832C2189.1 1826.2 2193 1809.7 2197 1812.4C2201 1815.1 2204.7 1842.8 2209 1848C2213.3 1853.2 2218 1843.5 2222.8 1843.7C2227.6 1843.9 2233.3 1851.5 2237.6 1849C2241.9 1846.5 2244.6 1834.7 2248.7 1829C2252.8 1823.3 2257.7 1818.7 2262 1815C2266.3 1811.3 2270.3 1806 2274.5 1806.8C2278.7 1807.6 2283.3 1815.7 2287.4 1819.7C2291.5 1823.7 2295.8 1828.3 2299.2 1830.8C2302.6 1833.3 2303.5 1841 2307.7 1834.5C2311.9 1828 2319.2 1804.4 2324.3 1792C2329.4 1779.6 2333.7 1769 2338 1760C2342.3 1751 2346 1744.1 2350.2 1737.8C2354.4 1731.5 2358.8 1726 2363 1722C2367.2 1718 2371.9 1712.3 2375.3 1713.5C2378.7 1714.7 2379.1 1727.5 2383.4 1729.3C2387.7 1731.1 2396.6 1724 2401 1724.5C2405.4 1725 2406 1728.6 2410 1732C2414 1735.4 2422.5 1742.8 2425 1745" fill="none" stroke="#ff0000" stroke-width="3" stroke-linejoin="round" stroke-linecap="round"/>
<g fill="#8c8c8c" stroke="#ff0000" stroke-width="3.5"><circle cx="1311.6" cy="2028.2" r="4.5"/><circle cx="1333.8" cy="2019" r="4.5"/><circle cx="1357.8" cy="2040.4" r="4.5"/><circle cx="1383.6" cy="2006" r="4.5"/><circle cx="1408.7" cy="1998.7" r="4.5"/><circle cx="1434.5" cy="1997.6" r="4.5"/><circle cx="1460.4" cy="1985.8" r="4.5"/><circle cx="1486.2" cy="1997.6" r="4.5"/><circle cx="1511" cy="2003.5" r="4.5"/><circle cx="1536.7" cy="1976.6" r="4.5"/><circle cx="1561.5" cy="1950.7" r="4.5"/><circle cx="1588.4" cy="1893.5" r="4.5"/><circle cx="1612.4" cy="1917.5" r="4.5"/><circle cx="1638.2" cy="1884.3" r="4.5"/><circle cx="1664" cy="1858.5" r="4.5"/><circle cx="1689.1" cy="1823.4" r="4.5"/><circle cx="1714.6" cy="1768" r="4.5"/><circle cx="1739.7" cy="1729.3" r="4.5"/><circle cx="1765.5" cy="1633.3" r="4.5"/><circle cx="1791.4" cy="1559.4" r="4.5"/><circle cx="1816" cy="1496.7" r="4.5"/><circle cx="1841.2" cy="1387.5" r="4.5"/><circle cx="1867.5" cy="1355.4" r="4.5"/><circle cx="1892.6" cy="1283.4" r="4.5"/><circle cx="1918.4" cy="1314.8" r="4.5"/><circle cx="1944.2" cy="1317.4" r="4.5"/><circle cx="1969.3" cy="1375" r="4.5"/><circle cx="1995.2" cy="1445.8" r="4.5"/><circle cx="2020" cy="1537.3" r="4.5"/><circle cx="2045.7" cy="1628.4" r="4.5"/><circle cx="2071.6" cy="1710.9" r="4.5"/><circle cx="2095.5" cy="1779.2" r="4.5"/><circle cx="2122" cy="1809.4" r="4.5"/><circle cx="2147.2" cy="1830" r="4.5"/><circle cx="2172.3" cy="1847.4" r="4.5"/><circle cx="2197" cy="1812.4" r="4.5"/><circle cx="2222.8" cy="1843.7" r="4.5"/><circle cx="2248.7" cy="1829" r="4.5"/><circle cx="2274.5" cy="1806.8" r="4.5"/><circle cx="2299.2" cy="1830.8" r="4.5"/><circle cx="2324.3" cy="1792" r="4.5"/><circle cx="2350.2" cy="1737.8" r="4.5"/><circle cx="2375.3" cy="1713.5" r="4.5"/><circle cx="2401" cy="1724.5" r="4.5"/></g>
</g>
<line x1="1906.4" y1="1322.2" x2="1906.4" y2="2044" stroke="#a0522d" stroke-width="3"/>
<path d="M1841 1136.5h10M1858 1136.5h6M1870 1136.5h6M1880 1136.5h6" stroke="#a8a8a8" stroke-width="1.5"/>
<line x1="1907.1" y1="1142.5" x2="1907.1" y2="1235" stroke="#ff0000" stroke-width="3.5"/>
<text x="1907.8" y="1171" font-size="31" font-weight="bold" textLength="54.6" lengthAdjust="spacingAndGlyphs">Bi 4s</text>
<text x="1907.8" y="1208.9" font-size="30.5" font-weight="bold" textLength="93.2" lengthAdjust="spacingAndGlyphs">Bi 4s 1/2</text>
<text x="1361.9" y="1208.6" font-size="30.5" textLength="64.4" lengthAdjust="spacingAndGlyphs">Name</text>
<text x="1498.8" y="1208.6" font-size="30.5" textLength="53.2" lengthAdjust="spacingAndGlyphs">Pos.</text>
<text x="1586.4" y="1208.6" font-size="30.5" textLength="72.1" lengthAdjust="spacingAndGlyphs">%Area</text>
<text x="1361.5" y="1242.5" font-size="30.5" fill="#e07080" textLength="56.9" lengthAdjust="spacingAndGlyphs">Bi 4s</text>
<text x="1491.4" y="1242.5" font-size="30.5" textLength="73.3" lengthAdjust="spacingAndGlyphs">939.60</text>
<text x="1593.5" y="1242.5" font-size="30.5" textLength="59.9" lengthAdjust="spacingAndGlyphs">71.31</text>
<text x="1361.6" y="1274.5" font-size="30.5" fill="#8dba6e" textLength="97.1" lengthAdjust="spacingAndGlyphs">Bi 4s 1/2</text>
<text x="1491.4" y="1274.5" font-size="30.5" textLength="73.3" lengthAdjust="spacingAndGlyphs">939.30</text>
<text x="1592.8" y="1274.5" font-size="30.5" textLength="61.4" lengthAdjust="spacingAndGlyphs">28.69</text>
<text x="2296.5" y="1224" font-size="45.4" font-family='"Liberation Serif", "Times New Roman", serif' font-weight="bold" textLength="55.1" lengthAdjust="spacingAndGlyphs">(d)</text>
<text x="1746" y="2126.3" font-size="31.5" font-weight="bold" textLength="236.8" lengthAdjust="spacingAndGlyphs">Binding Energy (eV)</text>
<text x="0" y="0" font-size="25.5" font-weight="bold" textLength="116.7" lengthAdjust="spacingAndGlyphs" transform="translate(1249 1621.6) rotate(-90)">CPS x 10</text>
<text x="0" y="0" font-size="22" font-weight="bold" textLength="24.1" lengthAdjust="spacingAndGlyphs" transform="translate(1237 1497.9) rotate(-90)">−2</text>
<path d="M134.8 3088v14.5M166 3088v14.5M197.2 3088v14.5M228.4 3088v14.5M259.6 3088v14.5M290.8 3088v14.5M322.1 3088v14.5M353.3 3088v14.5M384.5 3088v14.5M415.7 3088v14.5M446.9 3088v14.5M478.1 3088v14.5M509.3 3088v14.5M540.5 3088v14.5M571.7 3088v14.5M602.9 3088v14.5M634.2 3088v14.5M665.4 3088v14.5M696.6 3088v14.5M727.8 3088v14.5M759 3088v14.5M790.2 3088v14.5M821.4 3088v14.5M852.6 3088v14.5M883.8 3088v14.5M915 3088v14.5M946.2 3088v14.5M977.5 3088v14.5M1008.7 3088v14.5M1039.9 3088v14.5M1071.1 3088v14.5M1102.3 3088v14.5M1133.5 3088v14.5M166 3088v25M322.1 3088v25M478.1 3088v25M634.2 3088v25M790.2 3088v25M946.2 3088v25M1102.3 3088v25M110 3072.2h-8M110 2944.5h-8M110 2816.9h-8M110 2689.2h-8M110 2561.6h-8M110 2433.9h-8M110 2306.2h-8M110 3008.4h-16M110 2880.7h-16M110 2753h-16M110 2625.4h-16M110 2497.7h-16M110 2370.1h-16M110 2242.4h-16" stroke="#000" stroke-width="3" fill="none"/>
<rect x="110" y="2220" width="1029.5" height="868" fill="none" stroke="#000" stroke-width="4"/>
<text x="140.2" y="3144.3" font-size="35.3" font-weight="bold" textLength="51.3" lengthAdjust="spacingAndGlyphs">695</text>
<text x="296.5" y="3144.3" font-size="35.3" font-weight="bold" textLength="51.3" lengthAdjust="spacingAndGlyphs">690</text>
<text x="452.3" y="3144.3" font-size="35.3" font-weight="bold" textLength="51.3" lengthAdjust="spacingAndGlyphs">685</text>
<text x="608.6" y="3144.3" font-size="35.3" font-weight="bold" textLength="51.3" lengthAdjust="spacingAndGlyphs">680</text>
<text x="764.4" y="3144.3" font-size="35.3" font-weight="bold" textLength="51.3" lengthAdjust="spacingAndGlyphs">675</text>
<text x="920.7" y="3144.3" font-size="35.3" font-weight="bold" textLength="51.3" lengthAdjust="spacingAndGlyphs">670</text>
<text x="1076.5" y="3144.3" font-size="35.3" font-weight="bold" textLength="51.3" lengthAdjust="spacingAndGlyphs">665</text>
<text x="60.7" y="3016.5" font-size="36.4" font-weight="bold" textLength="34.5" lengthAdjust="spacingAndGlyphs">38</text>
<text x="61" y="2888.8" font-size="36.4" font-weight="bold" textLength="34.5" lengthAdjust="spacingAndGlyphs">40</text>
<text x="61" y="2761.1" font-size="36.4" font-weight="bold" textLength="34.5" lengthAdjust="spacingAndGlyphs">42</text>
<text x="59.9" y="2633.5" font-size="36.4" font-weight="bold" textLength="34.5" lengthAdjust="spacingAndGlyphs">44</text>
<text x="60.9" y="2505.8" font-size="36.4" font-weight="bold" textLength="34.5" lengthAdjust="spacingAndGlyphs">46</text>
<text x="60.7" y="2378.2" font-size="36.4" font-weight="bold" textLength="34.5" lengthAdjust="spacingAndGlyphs">48</text>
<text x="61" y="2250.5" font-size="36.4" font-weight="bold" textLength="34.5" lengthAdjust="spacingAndGlyphs">50</text>
<clipPath id="clipE"><rect x="110" y="2220" width="1029.5" height="868"/></clipPath>
<g clip-path="url(#clipE)">
<path d="M136.5 2897.7C163.8 2897.7 245.8 2897.6 300 2897.7C354.2 2897.8 421.2 2896.1 462 2898.5C502.8 2900.9 520.6 2905.2 544.6 2911.9C568.6 2918.6 585.3 2925.7 605.8 2938.7C626.3 2951.7 646.9 2973.9 667.5 2990C688.1 3006.1 708.7 3024 729.3 3035C749.9 3046 767 3050.8 791 3056C815 3061.2 839 3063.9 873.3 3066.5C907.6 3069.1 952.5 3070.6 996.8 3071.8C1041.1 3073.1 1115.3 3073.6 1139 3074" fill="none" stroke="#a33f0f" stroke-width="3.5" stroke-linejoin="round" stroke-linecap="round"/>
<path d="M136.5 2896C152.8 2896 267.4 2895.9 300 2896C332.6 2896.1 437.5 2896 462 2897C486.5 2898 530.2 2903 544.6 2906C559 2909 593.5 2921.2 605.8 2927C618.1 2932.8 658.9 2959.3 667.5 2964C676.1 2968.7 680.3 2972.6 692.2 2973.5C704.1 2974.4 772.8 2971.7 786.8 2973.5C800.8 2975.3 821.3 2986.9 832 2992C842.7 2997.1 882.2 3018.5 893.7 3024.8C905.2 3031.1 938.6 3051 947.2 3055C955.8 3059 970.7 3063.5 980 3065C989.3 3066.5 1034 3069.5 1040 3070" fill="none" stroke="#5aaa28" stroke-width="3.5" stroke-linejoin="round" stroke-linecap="round"/>
<path d="M136.5 2893.5C167.1 2893.5 276.1 2894.2 320 2893.5C363.9 2892.8 379.5 2891.4 400 2889C420.5 2886.6 429.5 2883.7 442.8 2879C456.1 2874.3 467.4 2871.2 479.7 2860.8C492 2850.4 505.6 2841 516.6 2816.5C527.6 2792 538.1 2741.2 545.5 2714C552.9 2686.8 555.8 2672.7 561 2653C566.2 2633.3 571.8 2617.2 576.9 2596C582 2574.8 586.6 2550.5 591.7 2525.8C596.8 2501.1 602.3 2472 607.5 2448C612.7 2424 616.7 2396.6 623 2382C629.3 2367.4 637.4 2358.8 645.2 2360.5C653 2362.2 662.8 2376.2 669.9 2392C677 2407.8 682.2 2428.7 687.6 2455C693 2481.3 697.8 2522.6 702 2550C706.2 2577.4 709.3 2595.6 712.9 2619.3C716.5 2643 719.8 2668.9 723.8 2692.3C727.8 2715.7 732.3 2738.1 736.6 2759.7C740.9 2781.3 745.1 2802 749.4 2821.8C753.6 2841.6 756.9 2857 762.1 2878.3C767.3 2899.6 774.2 2931.1 780.4 2949.4C786.5 2967.7 792.7 2976.3 799 2988C805.3 2999.7 808.9 3009.6 818.3 3019.5C827.7 3029.4 842.9 3041 855.2 3047.2C867.5 3053.3 879.8 3053.9 892.1 3056.4C904.4 3058.9 916.7 3060.5 929 3062C941.3 3063.5 950.7 3064.6 965.9 3065.6C981.1 3066.6 1011 3067.6 1020 3068" fill="none" stroke="#ff4f55" stroke-width="2.5" stroke-linejoin="round" stroke-linecap="round"/>
<path d="M109.1 2893C111.7 2893.5 119.5 2895.1 124.7 2895.9C129.9 2896.7 135.1 2897.1 140.3 2897.7C145.5 2898.3 150.7 2898.2 155.9 2899.6C161.1 2900.9 166.3 2904.4 171.5 2905.8C176.7 2907.2 181.9 2907.5 187.1 2908C192.3 2908.5 197.5 2908.4 202.7 2908.8C207.9 2909.2 213.1 2911.2 218.3 2910.6C223.5 2910 228.7 2905 233.9 2905C239.1 2905 244.3 2909.2 249.5 2910.6C254.7 2912 259.9 2913.5 265.1 2913.2C270.4 2912.9 275.6 2909.2 280.8 2908.8C286 2908.4 291.2 2910 296.4 2910.6C301.6 2911.2 306.8 2913.7 312 2912.5C317.2 2911.3 322.4 2905.2 327.6 2903.2C332.8 2901.2 338 2901.7 343.2 2900.7C348.4 2899.7 353.6 2897.5 358.8 2897C364 2896.5 369.2 2897.6 374.4 2897.7C379.6 2897.8 384.8 2899.2 390 2897.7C395.2 2896.2 400.4 2890.3 405.6 2888.5C410.8 2886.7 416 2888.1 421.2 2886.6C426.4 2885.1 431.6 2881.9 436.8 2879.3C442 2876.7 447.2 2875.1 452.4 2871.1C457.6 2867.1 462.8 2859 468 2855.3C473.2 2851.6 478.4 2854.1 483.6 2849C488.8 2843.9 494 2832.9 499.2 2825C504.4 2817.1 509.6 2813.1 514.8 2801.8C520 2790.6 525.2 2772.6 530.4 2757.5C535.6 2742.4 540.8 2728.7 546 2711C551.2 2693.3 556.4 2670.9 561.6 2651.5C566.8 2632.1 572 2615.8 577.2 2594.4C582.5 2573.1 587.7 2548.5 592.9 2523.4C598.1 2498.3 603.3 2468.7 608.5 2443.9C613.7 2419.1 618.9 2392.2 624.1 2374.5C629.3 2356.8 634.5 2343.4 639.7 2337.6C644.9 2331.8 650.1 2333.1 655.3 2339.4C660.5 2345.7 665.7 2358 670.9 2375.2C676.1 2392.4 681.3 2416.1 686.5 2442.5C691.7 2468.9 696.9 2504.5 702.1 2533.9C707.3 2563.3 712.5 2592.7 717.7 2619C722.9 2645.3 728.1 2668.4 733.3 2691.8C738.5 2715.2 743.7 2737.6 748.9 2759.3C754.1 2781 759.3 2804.2 764.5 2822C769.7 2839.8 774.9 2853.4 780.1 2866.3C785.3 2879.2 790.5 2889.2 795.7 2899.6C800.9 2910 806.1 2919.8 811.3 2929C816.5 2938.2 821.7 2947 826.9 2955C832.1 2963 837.3 2971.1 842.5 2977C847.7 2982.9 852.9 2985.6 858.1 2990.7C863.3 2995.8 868.5 3002.3 873.7 3007.7C878.9 3013.1 884.1 3019.7 889.4 3023.2C894.6 3026.7 899.8 3026.6 905 3028.7C910.2 3030.8 915.4 3034.2 920.6 3036C925.8 3037.8 931 3037 936.2 3039.8C941.4 3042.6 946.6 3049.9 951.8 3052.7C957 3055.5 962.2 3055.5 967.4 3056.4C972.6 3057.3 977.8 3056.7 983 3058.2C988.2 3059.7 993.4 3065 998.6 3065.6C1003.8 3066.2 1009 3062 1014.2 3062C1019.4 3062 1024.6 3064.4 1029.8 3065.6C1035 3066.8 1040.2 3068.5 1045.4 3069.3C1050.6 3070.1 1055.8 3069.6 1061 3070.4C1066.2 3071.2 1071.4 3073.1 1076.6 3074.1C1081.8 3075.1 1087 3075.8 1092.2 3076.7C1097.4 3077.6 1102.6 3078.4 1107.8 3079.3C1113 3080.2 1118.2 3082.8 1123.4 3082.2C1128.6 3081.6 1136.4 3077 1139 3076" fill="none" stroke="#ff0000" stroke-width="5" stroke-linejoin="round" stroke-linecap="round"/>
<g fill="#808080" stroke="#ff0000" stroke-width="4.5"><circle cx="109.1" cy="2893" r="6.5"/><circle cx="124.7" cy="2895.9" r="6.5"/><circle cx="140.3" cy="2897.7" r="6.5"/><circle cx="155.9" cy="2899.6" r="6.5"/><circle cx="171.5" cy="2905.8" r="6.5"/><circle cx="187.1" cy="2908" r="6.5"/><circle cx="202.7" cy="2908.8" r="6.5"/><circle cx="218.3" cy="2910.6" r="6.5"/><circle cx="233.9" cy="2905" r="6.5"/><circle cx="249.5" cy="2910.6" r="6.5"/><circle cx="265.1" cy="2913.2" r="6.5"/><circle cx="280.8" cy="2908.8" r="6.5"/><circle cx="296.4" cy="2910.6" r="6.5"/><circle cx="312" cy="2912.5" r="6.5"/><circle cx="327.6" cy="2903.2" r="6.5"/><circle cx="343.2" cy="2900.7" r="6.5"/><circle cx="358.8" cy="2897" r="6.5"/><circle cx="374.4" cy="2897.7" r="6.5"/><circle cx="390" cy="2897.7" r="6.5"/><circle cx="405.6" cy="2888.5" r="6.5"/><circle cx="421.2" cy="2886.6" r="6.5"/><circle cx="436.8" cy="2879.3" r="6.5"/><circle cx="452.4" cy="2871.1" r="6.5"/><circle cx="468" cy="2855.3" r="6.5"/><circle cx="483.6" cy="2849" r="6.5"/><circle cx="499.2" cy="2825" r="6.5"/><circle cx="514.8" cy="2801.8" r="6.5"/><circle cx="530.4" cy="2757.5" r="6.5"/><circle cx="546" cy="2711" r="6.5"/><circle cx="561.6" cy="2651.5" r="6.5"/><circle cx="577.2" cy="2594.4" r="6.5"/><circle cx="592.9" cy="2523.4" r="6.5"/><circle cx="608.5" cy="2443.9" r="6.5"/><circle cx="624.1" cy="2374.5" r="6.5"/><circle cx="639.7" cy="2337.6" r="6.5"/><circle cx="655.3" cy="2339.4" r="6.5"/><circle cx="670.9" cy="2375.2" r="6.5"/><circle cx="686.5" cy="2442.5" r="6.5"/><circle cx="702.1" cy="2533.9" r="6.5"/><circle cx="717.7" cy="2619" r="6.5"/><circle cx="733.3" cy="2691.8" r="6.5"/><circle cx="748.9" cy="2759.3" r="6.5"/><circle cx="764.5" cy="2822" r="6.5"/><circle cx="780.1" cy="2866.3" r="6.5"/><circle cx="795.7" cy="2899.6" r="6.5"/><circle cx="811.3" cy="2929" r="6.5"/><circle cx="826.9" cy="2955" r="6.5"/><circle cx="842.5" cy="2977" r="6.5"/><circle cx="858.1" cy="2990.7" r="6.5"/><circle cx="873.7" cy="3007.7" r="6.5"/><circle cx="889.4" cy="3023.2" r="6.5"/><circle cx="905" cy="3028.7" r="6.5"/><circle cx="920.6" cy="3036" r="6.5"/><circle cx="936.2" cy="3039.8" r="6.5"/><circle cx="951.8" cy="3052.7" r="6.5"/><circle cx="967.4" cy="3056.4" r="6.5"/><circle cx="983" cy="3058.2" r="6.5"/><circle cx="998.6" cy="3065.6" r="6.5"/><circle cx="1014.2" cy="3062" r="6.5"/><circle cx="1029.8" cy="3065.6" r="6.5"/><circle cx="1045.4" cy="3069.3" r="6.5"/><circle cx="1061" cy="3070.4" r="6.5"/><circle cx="1076.6" cy="3074.1" r="6.5"/><circle cx="1092.2" cy="3076.7" r="6.5"/><circle cx="1107.8" cy="3079.3" r="6.5"/><circle cx="1123.4" cy="3082.2" r="6.5"/><circle cx="1139" cy="3076" r="6.5"/></g>
</g>
<line x1="666.5" y1="2389" x2="666.5" y2="3088" stroke="#a0400a" stroke-width="3"/>
<line x1="666" y1="2220" x2="666" y2="2308.3" stroke="#ff0000" stroke-width="5"/>
<text x="666" y="2253.4" font-size="35" textLength="75.6" lengthAdjust="spacingAndGlyphs" stroke="#000" stroke-width="1.1">Bi 4p</text>
<text x="666.1" y="2295.4" font-size="35" textLength="118.6" lengthAdjust="spacingAndGlyphs" stroke="#000" stroke-width="1.1">Bi 4p3/2</text>
<text x="149.3" y="2283.3" font-size="37" textLength="83.1" lengthAdjust="spacingAndGlyphs">Name</text>
<text x="322.8" y="2283.3" font-size="37" textLength="67" lengthAdjust="spacingAndGlyphs">Pos.</text>
<text x="431.4" y="2283.3" font-size="37" textLength="91.8" lengthAdjust="spacingAndGlyphs">%Area</text>
<text x="149" y="2324.4" font-size="37" fill="#f8404f" textLength="123.8" lengthAdjust="spacingAndGlyphs">BI 4p 3/2</text>
<text x="310.2" y="2324.4" font-size="37" textLength="95.1" lengthAdjust="spacingAndGlyphs">679.48</text>
<text x="439.7" y="2324.4" font-size="37" textLength="75.1" lengthAdjust="spacingAndGlyphs">86.80</text>
<text x="148.9" y="2365.3" font-size="37" fill="#62b03a" textLength="73.8" lengthAdjust="spacingAndGlyphs">BI 4p</text>
<text x="310.2" y="2365.3" font-size="37" textLength="95.1" lengthAdjust="spacingAndGlyphs">675.03</text>
<text x="438.7" y="2365.3" font-size="37" textLength="76.1" lengthAdjust="spacingAndGlyphs">13.20</text>
<text x="1049.9" y="2291.9" font-size="43.6" font-family='"Liberation Serif", "Times New Roman", serif' font-weight="bold" textLength="50" lengthAdjust="spacingAndGlyphs">(e)</text>
<text x="476.5" y="3186" font-size="34.2" font-weight="bold" textLength="296" lengthAdjust="spacingAndGlyphs">Binding Energy (eV)</text>
<text x="0" y="0" font-size="35.5" font-weight="bold" textLength="144.6" lengthAdjust="spacingAndGlyphs" transform="translate(52.7 2686.8) rotate(-90)">CPS x 10</text>
<text x="0" y="0" font-size="33" font-weight="bold" textLength="34.9" lengthAdjust="spacingAndGlyphs" transform="translate(39.8 2543) rotate(-90)">−3</text>
<path d="M1348.4 3097v14M1397.3 3097v14M1446.2 3097v14M1495.1 3097v14M1544 3097v14M1592.9 3097v14M1641.8 3097v14M1690.7 3097v14M1739.6 3097v14M1788.5 3097v14M1837.4 3097v14M1886.3 3097v14M1935.2 3097v14M1984.1 3097v14M2033 3097v14M2081.9 3097v14M2130.8 3097v14M2179.7 3097v14M2228.6 3097v14M2277.5 3097v14M2326.4 3097v14M2375.3 3097v14M1397.3 3097v25M1592.9 3097v25M1788.5 3097v25M1984.1 3097v25M2179.7 3097v25M2375.3 3097v25M1322.4 3059.1h-8M1322.4 2961.4h-8M1322.4 2863.8h-8M1322.4 2766h-8M1322.4 2668.3h-8M1322.4 2570.6h-8M1322.4 2472.9h-8M1322.4 2375.2h-8M1322.4 2277.5h-8M1322.4 3010.3h-16M1322.4 2912.6h-16M1322.4 2814.9h-16M1322.4 2717.2h-16M1322.4 2619.5h-16M1322.4 2521.8h-16M1322.4 2424.1h-16M1322.4 2326.4h-16M1322.4 2228.7h-16" stroke="#000" stroke-width="3" fill="none"/>
<rect x="1322.4" y="2218.8" width="1075" height="878.2" fill="none" stroke="#000" stroke-width="4"/>
<text x="1374.4" y="3151" font-size="32" font-weight="bold" textLength="46" lengthAdjust="spacingAndGlyphs">290</text>
<text x="1569.9" y="3151" font-size="32" font-weight="bold" textLength="46" lengthAdjust="spacingAndGlyphs">288</text>
<text x="1765.5" y="3151" font-size="32" font-weight="bold" textLength="46" lengthAdjust="spacingAndGlyphs">286</text>
<text x="1960.7" y="3151" font-size="32" font-weight="bold" textLength="46" lengthAdjust="spacingAndGlyphs">284</text>
<text x="2156.8" y="3151" font-size="32" font-weight="bold" textLength="46" lengthAdjust="spacingAndGlyphs">282</text>
<text x="2352.4" y="3151" font-size="32" font-weight="bold" textLength="46" lengthAdjust="spacingAndGlyphs">280</text>
<text x="1276.6" y="3017.2" font-size="34.4" font-weight="bold" textLength="30.4" lengthAdjust="spacingAndGlyphs">26</text>
<text x="1276.4" y="2919.5" font-size="34.4" font-weight="bold" textLength="30.4" lengthAdjust="spacingAndGlyphs">28</text>
<text x="1276.7" y="2821.8" font-size="34.4" font-weight="bold" textLength="30.4" lengthAdjust="spacingAndGlyphs">30</text>
<text x="1276.7" y="2724.1" font-size="34.4" font-weight="bold" textLength="30.4" lengthAdjust="spacingAndGlyphs">32</text>
<text x="1275.7" y="2626.4" font-size="34.4" font-weight="bold" textLength="30.4" lengthAdjust="spacingAndGlyphs">34</text>
<text x="1276.6" y="2528.7" font-size="34.4" font-weight="bold" textLength="30.4" lengthAdjust="spacingAndGlyphs">36</text>
<text x="1276.4" y="2431" font-size="34.4" font-weight="bold" textLength="30.4" lengthAdjust="spacingAndGlyphs">38</text>
<text x="1276.7" y="2333.3" font-size="34.4" font-weight="bold" textLength="30.4" lengthAdjust="spacingAndGlyphs">40</text>
<text x="1276.7" y="2235.6" font-size="34.4" font-weight="bold" textLength="30.4" lengthAdjust="spacingAndGlyphs">42</text>
<clipPath id="clipF"><rect x="1322.4" y="2218.8" width="1075.0" height="878.1999999999998"/></clipPath>
<g clip-path="url(#clipF)">
<path d="M1322.4 3092.5 L2397.4 3092.5" fill="none" stroke="#8b3a10" stroke-width="4" stroke-linejoin="round" stroke-linecap="round"/>
<path d="M1440 3092C1446.7 3091.2 1468.3 3090.3 1480 3087.5C1491.7 3084.7 1501.5 3078.9 1510 3075C1518.5 3071.1 1523.5 3068.1 1531 3064C1538.5 3059.9 1547.7 3054.6 1555 3050.5C1562.3 3046.4 1568.5 3042.8 1575 3039.5C1581.5 3036.2 1587.6 3033.1 1594 3030.5C1600.4 3027.9 1607 3026 1613.5 3024C1620 3022 1626.4 3020.2 1633 3018.5C1639.6 3016.8 1646.6 3015.1 1653 3014C1659.4 3012.9 1664.9 3011.2 1671.4 3012C1677.9 3012.8 1684.6 3015.3 1692 3019C1699.4 3022.7 1705.6 3028.6 1715.7 3034.2C1725.8 3039.8 1740.3 3046.8 1752.6 3052.7C1764.9 3058.5 1777.2 3064.4 1789.5 3069.3C1801.8 3074.2 1815.3 3079.1 1826.4 3082.2C1837.5 3085.3 1843.7 3086.1 1856 3087.7C1868.3 3089.2 1884.3 3090.7 1900 3091.5C1915.7 3092.3 1941.7 3092.3 1950 3092.5" fill="none" stroke="#2e86c1" stroke-width="3" stroke-linejoin="round" stroke-linecap="round"/>
<path d="M1600 3093C1607 3092.6 1628.6 3091.3 1641.9 3090.3C1655.2 3089.3 1667.7 3088.3 1680 3087C1692.3 3085.7 1703.6 3084.8 1715.7 3082.2C1727.8 3079.5 1740.3 3076 1752.6 3071.1C1764.9 3066.2 1777.2 3058.8 1789.5 3052.7C1801.8 3046.5 1815.3 3038.5 1826.4 3034.2C1837.5 3029.9 1847.4 3028.3 1856 3026.9C1864.6 3025.5 1869.2 3024.5 1877.8 3026C1886.4 3027.5 1896.3 3030.9 1907.4 3036C1918.5 3041.1 1932 3049.6 1944.3 3056.4C1956.6 3063.2 1968.9 3071.2 1981.2 3076.7C1993.5 3082.2 2002.6 3086.5 2018 3089.6C2033.4 3092.7 2064.2 3094.1 2073.4 3095" fill="none" stroke="#7ab648" stroke-width="3" stroke-linejoin="round" stroke-linecap="round"/>
<path d="M1620 3092C1626.7 3091.5 1638.3 3090.6 1660.4 3089C1682.5 3087.4 1727.4 3084.2 1752.6 3082.2C1777.8 3080.1 1798.1 3079.5 1811.6 3076.7C1825.1 3073.9 1827.1 3070.8 1833.8 3065.6C1840.5 3060.4 1846.6 3053.7 1852 3045.3C1857.4 3036.9 1861.1 3026.7 1866 3015C1870.9 3003.3 1875.8 3000.3 1881.5 2975.2C1887.2 2950.1 1893.8 2902.9 1900 2864.5C1906.2 2826.1 1912.6 2782.6 1918.4 2745C1924.2 2707.4 1929.4 2680.2 1935 2639C1940.6 2597.8 1946.5 2540.3 1952 2498C1957.5 2455.7 1962 2409.8 1968 2385C1974 2360.2 1981.5 2348.2 1987.8 2349.4C1994.1 2350.6 1999.8 2365.6 2006 2392C2012.2 2418.4 2018.5 2463 2025 2508C2031.5 2553 2038.5 2611.3 2045 2662C2051.5 2712.7 2057.5 2767 2064 2812C2070.5 2857 2077.5 2899.3 2084 2932C2090.5 2964.7 2096.5 2987.7 2103 3008C2109.5 3028.3 2116.5 3043 2123 3054C2129.5 3065 2135.5 3069 2142 3074C2148.5 3079 2152.3 3081 2162 3084C2171.7 3087 2193.7 3090.7 2200 3092" fill="none" stroke="#d05a5a" stroke-width="2.5" stroke-linejoin="round" stroke-linecap="round"/>
<path d="M1320.8 3087.7C1324.1 3088 1333.8 3089.2 1340.4 3089.6C1346.9 3090 1353.4 3090.1 1359.9 3090.3C1366.4 3090.5 1373 3090.7 1379.5 3090.7C1386 3090.7 1392.5 3090.5 1399 3090.3C1405.6 3090.1 1412.1 3089.8 1418.6 3089.6C1425.1 3089.4 1431.6 3089.2 1438.2 3088.9C1444.7 3088.6 1451.2 3088.3 1457.7 3087.7C1464.2 3087.1 1470.8 3086.4 1477.3 3085.2C1483.8 3084 1490.3 3082.4 1496.8 3080.4C1503.4 3078.4 1509.9 3076.1 1516.4 3073C1522.9 3069.9 1529.4 3065.7 1536 3061.9C1542.5 3058.1 1549 3054 1555.5 3050.1C1562 3046.2 1568.6 3042.1 1575.1 3038.7C1581.6 3035.3 1588.1 3032.3 1594.6 3029.8C1601.2 3027.3 1607.7 3025.8 1614.2 3023.9C1620.7 3022.1 1627.2 3020.8 1633.8 3018.7C1640.3 3016.5 1646.8 3013 1653.3 3011C1659.8 3009 1666.4 3007.3 1672.9 3006.6C1679.4 3005.9 1685.9 3005.7 1692.4 3006.6C1699 3007.5 1705.5 3009.9 1712 3012.1C1718.5 3014.2 1725 3017.3 1731.6 3019.5C1738.1 3021.7 1744.6 3024.1 1751.1 3025C1757.6 3025.9 1764.2 3026.2 1770.7 3025C1777.2 3023.8 1783.7 3020.5 1790.2 3017.6C1796.8 3014.7 1803.3 3011.2 1809.8 3007.7C1816.3 3004.2 1822.8 3002 1829.4 2996.6C1835.9 2991.2 1842.4 2984.8 1848.9 2975.2C1855.4 2965.6 1862 2956.1 1868.5 2939C1875 2921.9 1881.5 2900.4 1888 2872.6C1894.6 2844.8 1901.1 2811.2 1907.6 2772.3C1914.1 2733.5 1920.6 2685.2 1927.2 2639.5C1933.7 2593.8 1940.2 2541.2 1946.7 2498C1953.2 2454.8 1959.8 2407.7 1966.3 2380C1972.8 2352.3 1979.3 2332.6 1985.8 2332C1992.4 2331.4 1998.9 2348.6 2005.4 2376.3C2011.9 2404 2018.4 2451.2 2025 2498C2031.5 2544.8 2038 2604.5 2044.5 2656.8C2051 2709.1 2057.6 2765.9 2064.1 2811.7C2070.6 2857.5 2077.1 2899 2083.6 2931.7C2090.2 2964.4 2096.7 2987.4 2103.2 3007.7C2109.7 3028 2116.2 3042.3 2122.8 3053.4C2129.3 3064.5 2135.8 3069.3 2142.3 3074.1C2148.8 3078.9 2155.4 3079.9 2161.9 3082.2C2168.4 3084.5 2174.9 3086.2 2181.4 3087.7C2188 3089.2 2194.5 3090.5 2201 3091.4C2207.5 3092.3 2214 3093 2220.6 3093.3C2227.1 3093.6 2233.6 3093.3 2240.1 3093.3C2246.6 3093.3 2253.2 3093.3 2259.7 3093.3C2266.2 3093.3 2272.7 3093.3 2279.2 3093.3C2285.8 3093.3 2292.3 3093.3 2298.8 3093.3C2305.3 3093.3 2311.8 3093.3 2318.4 3093.3C2324.9 3093.3 2331.4 3093.3 2337.9 3093.3C2344.4 3093.3 2351 3093.3 2357.5 3093.3C2364 3093.3 2370.5 3093.3 2377 3093.3C2383.6 3093.3 2393.3 3093.3 2396.6 3093.3" fill="none" stroke="#ff0000" stroke-width="4" stroke-linejoin="round" stroke-linecap="round"/>
<g fill="#8c8c8c" stroke="#ff0000" stroke-width="5.5"><circle cx="1320.8" cy="3087.7" r="6"/><circle cx="1340.4" cy="3089.6" r="6"/><circle cx="1359.9" cy="3090.3" r="6"/><circle cx="1379.5" cy="3090.7" r="6"/><circle cx="1399" cy="3090.3" r="6"/><circle cx="1418.6" cy="3089.6" r="6"/><circle cx="1438.2" cy="3088.9" r="6"/><circle cx="1457.7" cy="3087.7" r="6"/><circle cx="1477.3" cy="3085.2" r="6"/><circle cx="1496.8" cy="3080.4" r="6"/><circle cx="1516.4" cy="3073" r="6"/><circle cx="1536" cy="3061.9" r="6"/><circle cx="1555.5" cy="3050.1" r="6"/><circle cx="1575.1" cy="3038.7" r="6"/><circle cx="1594.6" cy="3029.8" r="6"/><circle cx="1614.2" cy="3023.9" r="6"/><circle cx="1633.8" cy="3018.7" r="6"/><circle cx="1653.3" cy="3011" r="6"/><circle cx="1672.9" cy="3006.6" r="6"/><circle cx="1692.4" cy="3006.6" r="6"/><circle cx="1712" cy="3012.1" r="6"/><circle cx="1731.6" cy="3019.5" r="6"/><circle cx="1751.1" cy="3025" r="6"/><circle cx="1770.7" cy="3025" r="6"/><circle cx="1790.2" cy="3017.6" r="6"/><circle cx="1809.8" cy="3007.7" r="6"/><circle cx="1829.4" cy="2996.6" r="6"/><circle cx="1848.9" cy="2975.2" r="6"/><circle cx="1868.5" cy="2939" r="6"/><circle cx="1888" cy="2872.6" r="6"/><circle cx="1907.6" cy="2772.3" r="6"/><circle cx="1927.2" cy="2639.5" r="6"/><circle cx="1946.7" cy="2498" r="6"/><circle cx="1966.3" cy="2380" r="6"/><circle cx="1985.8" cy="2332" r="6"/><circle cx="2005.4" cy="2376.3" r="6"/><circle cx="2025" cy="2498" r="6"/><circle cx="2044.5" cy="2656.8" r="6"/><circle cx="2064.1" cy="2811.7" r="6"/><circle cx="2083.6" cy="2931.7" r="6"/><circle cx="2103.2" cy="3007.7" r="6"/><circle cx="2122.8" cy="3053.4" r="6"/><circle cx="2142.3" cy="3074.1" r="6"/><circle cx="2161.9" cy="3082.2" r="6"/><circle cx="2181.4" cy="3087.7" r="6"/><circle cx="2201" cy="3091.4" r="6"/><circle cx="2220.6" cy="3093.3" r="6"/><circle cx="2240.1" cy="3093.3" r="6"/><circle cx="2259.7" cy="3093.3" r="6"/><circle cx="2279.2" cy="3093.3" r="6"/><circle cx="2298.8" cy="3093.3" r="6"/><circle cx="2318.4" cy="3093.3" r="6"/><circle cx="2337.9" cy="3093.3" r="6"/><circle cx="2357.5" cy="3093.3" r="6"/><circle cx="2377" cy="3093.3" r="6"/><circle cx="2396.6" cy="3093.3" r="6"/></g>
</g>
<line x1="1983.7" y1="2394.8" x2="1983.7" y2="3097" stroke="#a0561e" stroke-width="3"/>
<line x1="1984" y1="2218.8" x2="1984" y2="2308.8" stroke="#ff0000" stroke-width="4"/>
<text x="1986.7" y="2250.1" font-size="34.7" font-weight="bold" textLength="53.5" lengthAdjust="spacingAndGlyphs">C 1s</text>
<text x="1372.5" y="2283.9" font-size="34" textLength="73.5" lengthAdjust="spacingAndGlyphs">Name</text>
<text x="1508.5" y="2283.9" font-size="34" textLength="60.5" lengthAdjust="spacingAndGlyphs">Pos.</text>
<text x="1607.7" y="2283.9" font-size="34" textLength="81.3" lengthAdjust="spacingAndGlyphs">%Area</text>
<text x="1373.2" y="2322.9" font-size="34" fill="#e05a68" textLength="57.5" lengthAdjust="spacingAndGlyphs">C 1s</text>
<text x="1498.4" y="2322.9" font-size="34" textLength="85.9" lengthAdjust="spacingAndGlyphs">283.97</text>
<text x="1617.6" y="2322.9" font-size="34" textLength="68.9" lengthAdjust="spacingAndGlyphs">78.60</text>
<text x="1373.2" y="2361.5" font-size="34" fill="#8dbb5a" textLength="77.1" lengthAdjust="spacingAndGlyphs">C-O-C</text>
<text x="1498.4" y="2361.5" font-size="34" textLength="85.8" lengthAdjust="spacingAndGlyphs">285.19</text>
<text x="1630.4" y="2361.5" font-size="34" textLength="53.9" lengthAdjust="spacingAndGlyphs">8.90</text>
<text x="1373.3" y="2400" font-size="34" fill="#4a90d0" textLength="89.9" lengthAdjust="spacingAndGlyphs">O-C=O</text>
<text x="1498.4" y="2400" font-size="34" textLength="85.8" lengthAdjust="spacingAndGlyphs">287.29</text>
<text x="1616.9" y="2400" font-size="34" textLength="69.6" lengthAdjust="spacingAndGlyphs">12.50</text>
<text x="2303.2" y="2279.1" font-size="44.9" font-family='"Liberation Serif", "Times New Roman", serif' font-weight="bold" textLength="45.5" lengthAdjust="spacingAndGlyphs">(f)</text>
<text x="1722.7" y="3189.6" font-size="31" font-weight="bold" textLength="270.1" lengthAdjust="spacingAndGlyphs">Binding Energy (eV)</text>
<text x="0" y="0" font-size="30.5" textLength="135.6" lengthAdjust="spacingAndGlyphs" transform="translate(1266.1 2690.8) rotate(-90)" stroke="#000" stroke-width="0.8">CPS x 10</text>
<text x="0" y="0" font-size="29" textLength="36.7" lengthAdjust="spacingAndGlyphs" transform="translate(1257 2556.3) rotate(-90)" stroke="#000" stroke-width="0.8">−3</text></svg></body></html>
